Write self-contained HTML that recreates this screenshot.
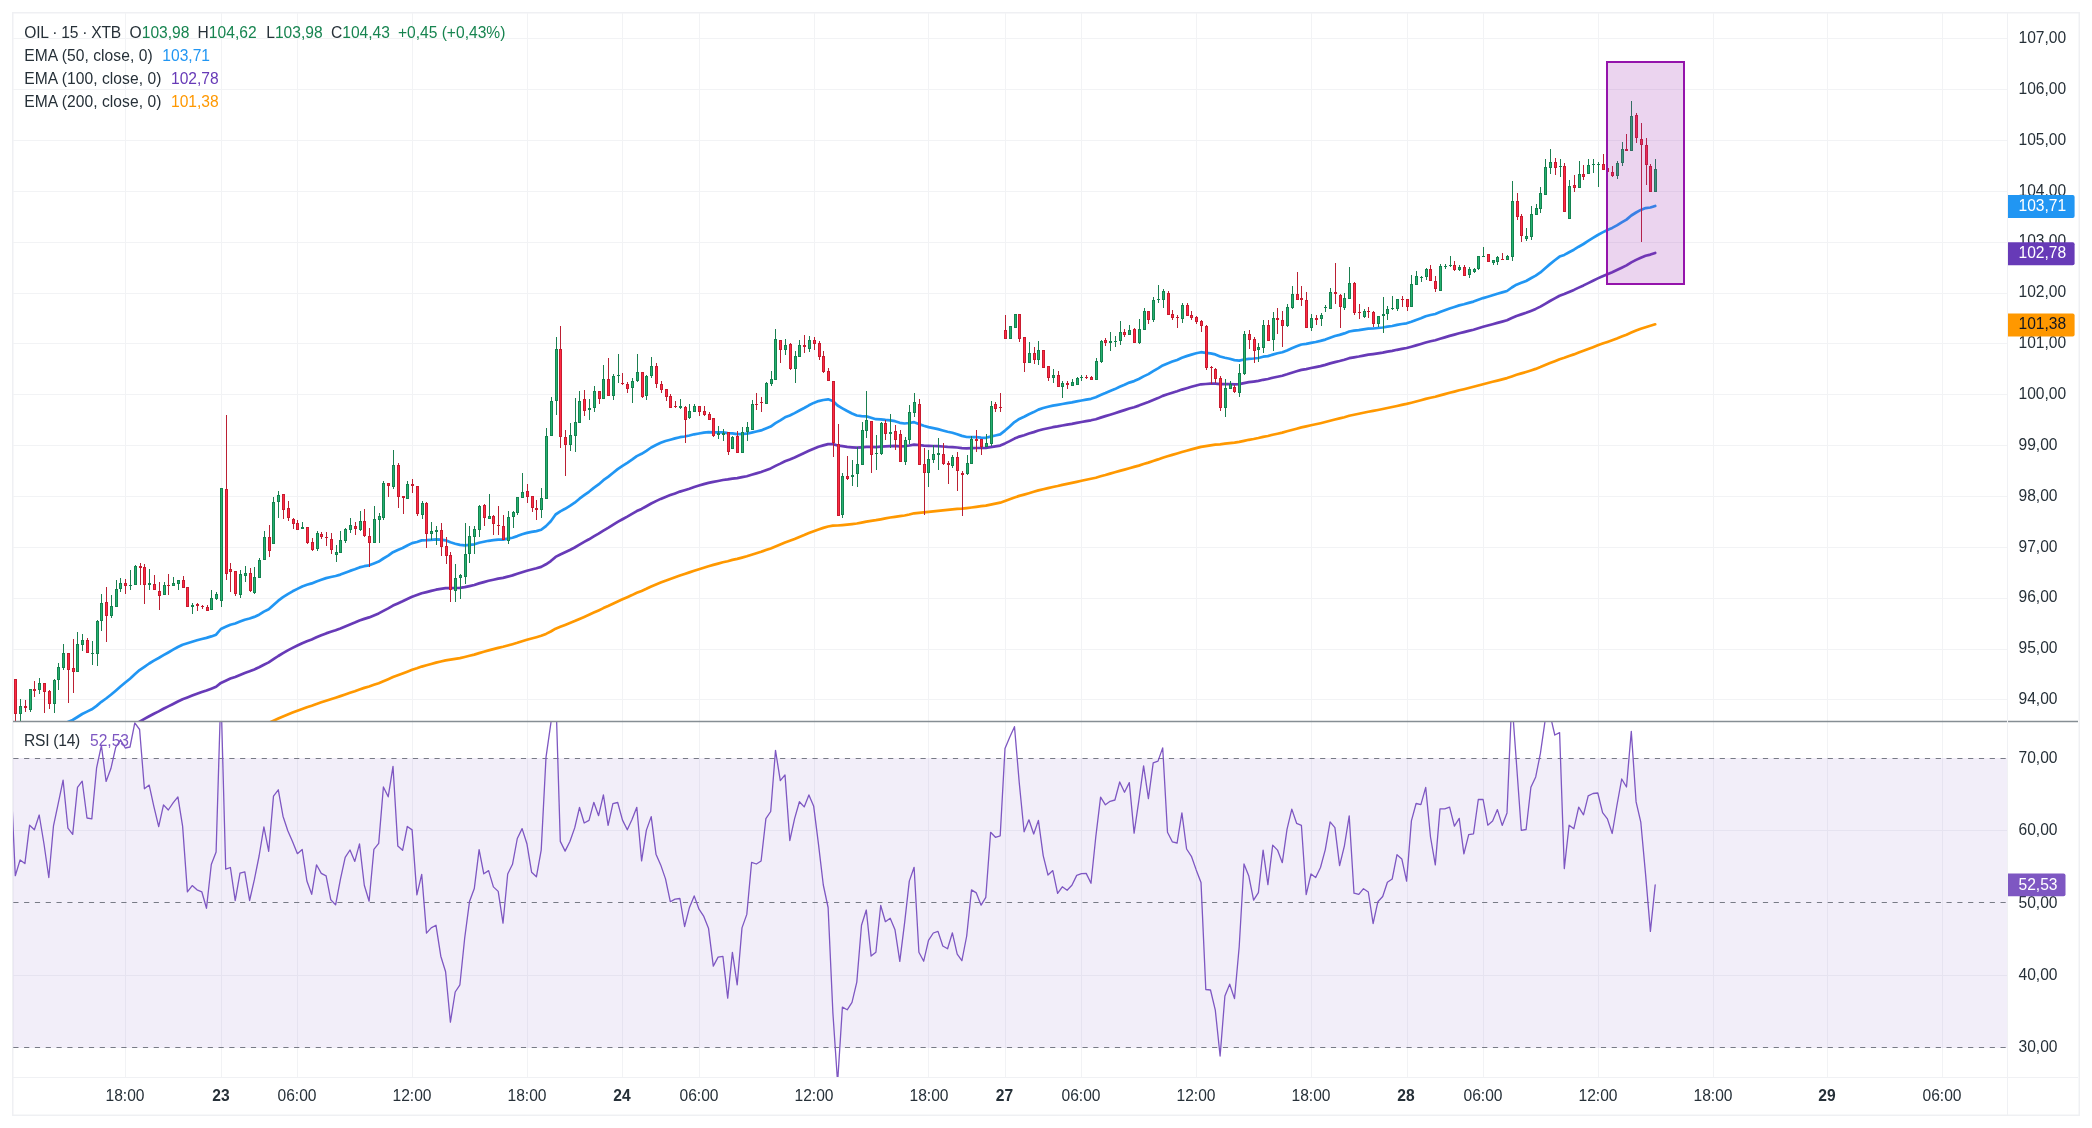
<!DOCTYPE html>
<html><head><meta charset="utf-8"><title>OIL 15 XTB</title>
<style>html,body{margin:0;padding:0;background:#fff;width:2092px;height:1128px;overflow:hidden}svg text{-webkit-font-smoothing:antialiased}.g{will-change:transform}</style>
</head><body><div class="g">
<svg width="2092" height="1128" viewBox="0 0 2092 1128" style="display:block">
<defs>
<clipPath id="cp"><rect x="13" y="13" width="1994" height="708"/></clipPath>
<clipPath id="cr"><rect x="13" y="722" width="1994" height="355"/></clipPath>
</defs>
<rect x="12.75" y="12.75" width="2066.5" height="1102.5" fill="none" stroke="#eff0f3" stroke-width="1.5"/>
<path d="M13 38.5H2007M13 89.5H2007M13 140.5H2007M13 191.5H2007M13 242.5H2007M13 293.5H2007M13 343.5H2007M13 394.5H2007M13 445.5H2007M13 496.5H2007M13 547.5H2007M13 598.5H2007M13 649.5H2007M13 699.5H2007M13 830.5H2007M13 975.5H2007M125.5 13V721M125.5 722V1077M221.5 13V721M221.5 722V1077M297.5 13V721M297.5 722V1077M412.5 13V721M412.5 722V1077M527.5 13V721M527.5 722V1077M622.5 13V721M622.5 722V1077M699.5 13V721M699.5 722V1077M814.5 13V721M814.5 722V1077M928.5 13V721M928.5 722V1077M1005.5 13V721M1005.5 722V1077M1081.5 13V721M1081.5 722V1077M1196.5 13V721M1196.5 722V1077M1311.5 13V721M1311.5 722V1077M1407.5 13V721M1407.5 722V1077M1483.5 13V721M1483.5 722V1077M1598.5 13V721M1598.5 722V1077M1713.5 13V721M1713.5 722V1077M1827.5 13V721M1827.5 722V1077M1942.5 13V721M1942.5 722V1077" stroke="#f2f3f5" stroke-width="1" fill="none"/>
<rect x="13" y="758" width="1994" height="290" fill="#7e57c2" fill-opacity="0.1"/>
<path d="M13.3 758.5H2007" stroke="#787b86" stroke-width="1" stroke-dasharray="5.2 5.6" fill="none"/>
<path d="M13.3 902.5H2007" stroke="#787b86" stroke-width="1" stroke-dasharray="5.2 5.6" fill="none"/>
<path d="M13.3 1047.5H2007" stroke="#787b86" stroke-width="1" stroke-dasharray="5.2 5.6" fill="none"/>
<polyline clip-path="url(#cp)" points="10.5,805.7 15.3,804.8 20.1,803.8 24.9,802.8 29.6,801.7 34.4,800.6 39.2,799.4 44.0,798.3 48.8,797.4 53.5,796.2 58.3,795.0 63.1,793.5 67.9,792.3 72.7,791.1 77.5,789.7 82.2,788.2 87.0,786.8 91.8,785.5 96.6,783.8 101.4,782.0 106.1,780.4 110.9,778.7 115.7,776.8 120.5,774.8 125.3,773.0 130.0,771.1 134.8,769.1 139.6,767.1 144.4,765.2 149.2,763.4 153.9,761.7 158.7,760.0 163.5,758.3 168.3,756.6 173.1,754.9 177.9,753.1 182.6,751.5 187.4,750.0 192.2,748.6 197.0,747.2 201.8,745.8 206.5,744.5 211.3,743.0 216.1,741.5 220.9,739.0 225.7,737.4 230.4,735.7 235.2,734.3 240.0,732.7 244.8,731.1 249.6,729.7 254.3,728.2 259.1,726.5 263.9,724.7 268.7,722.9 273.5,720.7 278.3,718.5 283.0,716.4 287.8,714.4 292.6,712.5 297.4,710.7 302.2,708.9 306.9,707.2 311.7,705.7 316.5,704.0 321.3,702.3 326.1,700.7 330.8,699.2 335.6,697.7 340.4,696.1 345.2,694.5 350.0,692.8 354.8,691.2 359.5,689.5 364.3,687.9 369.1,686.5 373.9,684.8 378.7,683.2 383.4,681.2 388.2,679.2 393.0,677.1 397.8,675.3 402.6,673.5 407.3,671.7 412.1,669.8 416.9,668.3 421.7,666.6 426.5,665.3 431.2,664.0 436.0,662.6 440.8,661.5 445.6,660.4 450.4,659.7 455.2,658.9 459.9,658.1 464.7,657.0 469.5,655.8 474.3,654.6 479.1,653.1 483.8,651.8 488.6,650.4 493.4,649.1 498.2,647.9 503.0,646.8 507.7,645.5 512.5,644.2 517.3,642.8 522.1,641.2 526.9,639.8 531.6,638.5 536.4,637.2 541.2,635.8 546.0,633.9 550.8,631.5 555.6,628.7 560.3,626.8 565.1,625.0 569.9,623.1 574.7,621.1 579.5,618.9 584.2,616.9 589.0,614.8 593.8,612.6 598.6,610.4 603.4,608.1 608.1,606.0 612.9,603.7 617.7,601.5 622.5,599.3 627.3,597.2 632.0,595.1 636.8,592.8 641.6,590.9 646.4,588.8 651.2,586.5 656.0,584.5 660.7,582.6 665.5,580.7 670.3,579.0 675.1,577.3 679.9,575.6 684.6,574.0 689.4,572.4 694.2,570.8 699.0,569.2 703.8,567.7 708.5,566.2 713.3,564.9 718.1,563.6 722.9,562.3 727.7,561.2 732.4,559.9 737.2,558.9 742.0,557.6 746.8,556.3 751.6,554.8 756.4,553.3 761.1,551.8 765.9,550.1 770.7,548.4 775.5,546.4 780.3,544.4 785.0,542.4 789.8,540.7 794.6,538.9 799.4,536.9 804.2,535.1 808.9,533.1 813.7,531.2 818.5,529.5 823.3,527.9 828.1,526.5 832.9,525.6 837.6,525.5 842.4,525.1 847.2,524.6 852.0,524.1 856.8,523.5 861.5,522.6 866.3,521.6 871.1,520.9 875.9,520.2 880.7,519.3 885.4,518.4 890.2,517.5 895.0,516.8 899.8,516.2 904.6,515.5 909.3,514.5 914.1,513.3 918.9,512.8 923.7,512.4 928.5,511.9 933.3,511.3 938.0,510.8 942.8,510.3 947.6,509.8 952.4,509.3 957.2,508.9 961.9,508.6 966.7,508.1 971.5,507.5 976.3,506.8 981.1,506.2 985.8,505.6 990.6,504.6 995.4,503.6 1000.2,502.7 1005.0,501.0 1009.7,499.3 1014.5,497.5 1019.3,495.9 1024.1,494.6 1028.9,493.2 1033.7,491.8 1038.4,490.4 1043.2,489.2 1048.0,488.1 1052.8,487.0 1057.6,486.0 1062.3,484.9 1067.1,483.9 1071.9,482.9 1076.7,481.9 1081.5,480.8 1086.2,479.8 1091.0,478.8 1095.8,477.7 1100.6,476.3 1105.4,475.0 1110.1,473.6 1114.9,472.3 1119.7,470.9 1124.5,469.6 1129.3,468.2 1134.1,466.9 1138.8,465.6 1143.6,464.0 1148.4,462.6 1153.2,461.0 1158.0,459.4 1162.7,457.7 1167.5,456.3 1172.3,454.9 1177.1,453.5 1181.9,452.0 1186.6,450.7 1191.4,449.4 1196.2,448.1 1201.0,446.9 1205.8,446.1 1210.5,445.3 1215.3,444.7 1220.1,444.3 1224.9,443.7 1229.7,443.1 1234.5,442.6 1239.2,441.9 1244.0,440.9 1248.8,439.8 1253.6,439.0 1258.4,438.0 1263.1,436.9 1267.9,436.0 1272.7,434.8 1277.5,433.7 1282.3,432.6 1287.0,431.3 1291.8,430.0 1296.6,428.7 1301.4,427.4 1306.2,426.4 1311.0,425.3 1315.7,424.3 1320.5,423.2 1325.3,422.0 1330.1,420.7 1334.9,419.5 1339.6,418.4 1344.4,417.2 1349.2,415.8 1354.0,414.8 1358.8,413.8 1363.5,412.8 1368.3,411.8 1373.1,410.9 1377.9,410.0 1382.7,409.0 1387.4,408.0 1392.2,407.0 1397.0,406.0 1401.8,404.9 1406.6,403.9 1411.4,402.7 1416.1,401.5 1420.9,400.2 1425.7,398.9 1430.5,397.8 1435.3,396.7 1440.0,395.4 1444.8,394.1 1449.6,392.8 1454.4,391.6 1459.2,390.3 1463.9,389.2 1468.7,388.0 1473.5,386.8 1478.3,385.5 1483.1,384.2 1487.8,383.0 1492.6,381.8 1497.4,380.6 1502.2,379.4 1507.0,378.1 1511.8,376.4 1516.5,374.8 1521.3,373.4 1526.1,372.0 1530.9,370.5 1535.7,368.9 1540.4,367.1 1545.2,365.1 1550.0,363.1 1554.8,361.2 1559.6,359.2 1564.3,357.8 1569.1,356.0 1573.9,354.4 1578.7,352.6 1583.5,350.8 1588.2,349.0 1593.0,347.2 1597.8,345.3 1602.6,343.6 1607.4,341.9 1612.2,340.2 1616.9,338.5 1621.7,336.6 1626.5,334.7 1631.3,332.6 1636.1,330.6 1640.8,328.8 1645.6,327.2 1650.4,325.8 1655.2,324.3" fill="none" stroke="#ff9800" stroke-width="2.7" stroke-linejoin="round" stroke-linecap="round"/>
<polyline clip-path="url(#cp)" points="10.5,780.8 15.3,779.4 20.1,778.0 24.9,776.6 29.6,774.8 34.4,773.2 39.2,771.4 44.0,769.8 48.8,768.5 53.5,766.8 58.3,764.8 63.1,762.6 67.9,760.8 72.7,759.0 77.5,756.7 82.2,754.4 87.0,752.4 91.8,750.4 96.6,747.9 101.4,745.0 106.1,742.4 110.9,739.7 115.7,736.8 120.5,733.7 125.3,730.8 130.0,727.9 134.8,724.7 139.6,721.6 144.4,718.9 149.2,716.2 153.9,713.7 158.7,711.4 163.5,708.8 168.3,706.4 173.1,704.0 177.9,701.5 182.6,699.3 187.4,697.5 192.2,695.6 197.0,693.8 201.8,692.1 206.5,690.5 211.3,688.7 216.1,686.8 220.9,682.9 225.7,680.7 230.4,678.6 235.2,676.9 240.0,674.9 244.8,672.9 249.6,671.2 254.3,669.4 259.1,667.2 263.9,664.7 268.7,662.4 273.5,659.2 278.3,656.0 283.0,653.1 287.8,650.4 292.6,647.9 297.4,645.5 302.2,643.2 306.9,641.2 311.7,639.4 316.5,637.3 321.3,635.3 326.1,633.4 330.8,631.8 335.6,630.2 340.4,628.4 345.2,626.4 350.0,624.4 354.8,622.5 359.5,620.5 364.3,618.9 369.1,617.4 373.9,615.4 378.7,613.4 383.4,610.9 388.2,608.4 393.0,605.6 397.8,603.4 402.6,601.3 407.3,599.0 412.1,596.8 416.9,595.1 421.7,593.3 426.5,592.1 431.2,590.9 436.0,589.7 440.8,588.9 445.6,588.2 450.4,588.2 455.2,588.0 459.9,587.8 464.7,587.1 469.5,586.1 474.3,585.0 479.1,583.4 483.8,582.1 488.6,580.8 493.4,579.7 498.2,578.6 503.0,577.9 507.7,576.6 512.5,575.4 517.3,573.8 522.1,572.2 526.9,570.7 531.6,569.5 536.4,568.3 541.2,566.9 546.0,564.3 550.8,561.1 555.6,556.9 560.3,554.5 565.1,552.3 569.9,550.0 574.7,547.5 579.5,544.6 584.2,541.9 589.0,539.3 593.8,536.4 598.6,533.6 603.4,530.6 608.1,527.9 612.9,524.9 617.7,521.9 622.5,519.2 627.3,516.6 632.0,513.9 636.8,511.1 641.6,508.9 646.4,506.2 651.2,503.5 656.0,501.1 660.7,498.9 665.5,496.9 670.3,495.1 675.1,493.4 679.9,491.6 684.6,490.2 689.4,488.7 694.2,487.0 699.0,485.5 703.8,484.1 708.5,482.9 713.3,481.9 718.1,481.0 722.9,480.0 727.7,479.4 732.4,478.6 737.2,478.1 742.0,477.2 746.8,476.2 751.6,474.8 756.4,473.4 761.1,472.0 765.9,470.2 770.7,468.4 775.5,465.9 780.3,463.6 785.0,461.2 789.8,459.4 794.6,457.4 799.4,455.2 804.2,453.0 808.9,450.8 813.7,448.7 818.5,446.8 823.3,445.4 828.1,444.1 832.9,444.1 837.6,445.5 842.4,446.1 847.2,446.8 852.0,447.3 856.8,447.7 861.5,447.3 866.3,446.8 871.1,446.9 875.9,447.1 880.7,446.6 885.4,446.3 890.2,446.1 895.0,445.9 899.8,446.3 904.6,446.1 909.3,445.5 914.1,444.6 918.9,445.0 923.7,445.6 928.5,445.8 933.3,446.0 938.0,446.1 942.8,446.5 947.6,446.9 952.4,447.1 957.2,447.5 961.9,448.1 966.7,448.4 971.5,448.2 976.3,448.0 981.1,448.0 985.8,447.9 990.6,447.1 995.4,446.3 1000.2,445.6 1005.0,443.4 1009.7,441.1 1014.5,438.6 1019.3,436.6 1024.1,435.2 1028.9,433.5 1033.7,432.1 1038.4,430.5 1043.2,429.2 1048.0,428.2 1052.8,427.2 1057.6,426.4 1062.3,425.5 1067.1,424.7 1071.9,423.9 1076.7,422.9 1081.5,422.0 1086.2,421.1 1091.0,420.3 1095.8,419.2 1100.6,417.6 1105.4,416.1 1110.1,414.7 1114.9,413.2 1119.7,411.6 1124.5,410.1 1129.3,408.5 1134.1,407.2 1138.8,405.6 1143.6,403.8 1148.4,402.1 1153.2,400.1 1158.0,398.1 1162.7,395.9 1167.5,394.3 1172.3,392.8 1177.1,391.3 1181.9,389.6 1186.6,388.2 1191.4,386.8 1196.2,385.5 1201.0,384.3 1205.8,384.0 1210.5,383.7 1215.3,383.6 1220.1,384.1 1224.9,384.1 1229.7,384.1 1234.5,384.3 1239.2,384.1 1244.0,383.1 1248.8,382.2 1253.6,381.6 1258.4,380.9 1263.1,379.8 1267.9,379.0 1272.7,377.8 1277.5,376.7 1282.3,375.7 1287.0,374.3 1291.8,372.7 1296.6,371.3 1301.4,369.9 1306.2,369.1 1311.0,368.0 1315.7,367.1 1320.5,366.1 1325.3,364.9 1330.1,363.4 1334.9,362.1 1339.6,361.0 1344.4,359.7 1349.2,358.2 1354.0,357.3 1358.8,356.5 1363.5,355.6 1368.3,354.7 1373.1,354.1 1377.9,353.4 1382.7,352.6 1387.4,351.7 1392.2,350.9 1397.0,349.8 1401.8,348.9 1406.6,348.0 1411.4,346.7 1416.1,345.4 1420.9,344.0 1425.7,342.5 1430.5,341.3 1435.3,340.3 1440.0,338.8 1444.8,337.4 1449.6,335.9 1454.4,334.6 1459.2,333.3 1463.9,332.1 1468.7,330.9 1473.5,329.7 1478.3,328.2 1483.1,326.8 1487.8,325.5 1492.6,324.2 1497.4,322.9 1502.2,321.6 1507.0,320.3 1511.8,318.0 1516.5,316.0 1521.3,314.4 1526.1,312.8 1530.9,310.9 1535.7,308.9 1540.4,306.6 1545.2,303.8 1550.0,301.0 1554.8,298.4 1559.6,295.8 1564.3,294.1 1569.1,292.0 1573.9,289.9 1578.7,287.6 1583.5,285.4 1588.2,283.1 1593.0,280.7 1597.8,278.4 1602.6,276.2 1607.4,274.2 1612.2,272.2 1616.9,270.0 1621.7,267.7 1626.5,265.4 1631.3,262.4 1636.1,259.9 1640.8,257.7 1645.6,255.8 1650.4,254.6 1655.2,252.9" fill="none" stroke="#673ab7" stroke-width="2.7" stroke-linejoin="round" stroke-linecap="round"/>
<polyline clip-path="url(#cp)" points="10.5,744.1 15.3,742.9 20.1,741.5 24.9,740.2 29.6,738.2 34.4,736.3 39.2,734.2 44.0,732.6 48.8,731.5 53.5,729.4 58.3,727.0 63.1,724.1 67.9,722.0 72.7,720.0 77.5,717.0 82.2,714.0 87.0,711.6 91.8,709.3 96.6,705.9 101.4,701.8 106.1,698.5 110.9,694.8 115.7,690.7 120.5,686.5 125.3,682.5 130.0,678.7 134.8,674.3 139.6,670.1 144.4,666.8 149.2,663.5 153.9,660.6 158.7,658.0 163.5,655.2 168.3,652.5 173.1,649.7 177.9,647.0 182.6,644.7 187.4,643.2 192.2,641.7 197.0,640.3 201.8,639.0 206.5,637.9 211.3,636.4 216.1,634.7 220.9,629.0 225.7,626.8 230.4,624.7 235.2,623.5 240.0,621.6 244.8,619.7 249.6,618.5 254.3,616.9 259.1,614.7 263.9,611.6 268.7,609.3 273.5,605.0 278.3,600.7 283.0,597.2 287.8,594.1 292.6,591.3 297.4,588.9 302.2,586.5 306.9,584.8 311.7,583.4 316.5,581.4 321.3,579.7 326.1,578.1 330.8,577.0 335.6,576.0 340.4,574.6 345.2,572.8 350.0,570.9 354.8,569.3 359.5,567.4 364.3,566.2 369.1,565.3 373.9,563.5 378.7,561.6 383.4,558.5 388.2,555.7 393.0,552.2 397.8,550.0 402.6,548.0 407.3,545.5 412.1,543.1 416.9,542.0 421.7,540.4 426.5,540.2 431.2,539.8 436.0,539.4 440.8,539.7 445.6,540.3 450.4,542.3 455.2,543.7 459.9,544.9 464.7,545.3 469.5,544.9 474.3,544.3 479.1,542.8 483.8,541.8 488.6,540.8 493.4,540.2 498.2,539.6 503.0,539.6 507.7,538.7 512.5,537.7 517.3,536.1 522.1,534.3 526.9,532.9 531.6,531.9 536.4,531.1 541.2,529.8 546.0,526.1 550.8,521.2 555.6,514.5 560.3,511.4 565.1,508.8 569.9,505.9 574.7,502.7 579.5,498.7 584.2,495.2 589.0,491.8 593.8,487.9 598.6,484.4 603.4,480.2 608.1,476.9 612.9,473.0 617.7,469.1 622.5,465.8 627.3,462.8 632.0,459.6 636.8,456.1 641.6,453.8 646.4,450.8 651.2,447.5 656.0,445.0 660.7,442.8 665.5,441.0 670.3,439.7 675.1,438.4 679.9,437.2 684.6,436.5 689.4,435.5 694.2,434.3 699.0,433.5 703.8,432.7 708.5,432.2 713.3,432.4 718.1,432.4 722.9,432.4 727.7,433.2 732.4,433.3 737.2,434.1 742.0,434.0 746.8,433.7 751.6,432.6 756.4,431.5 761.1,430.4 765.9,428.5 770.7,426.6 775.5,423.2 780.3,420.3 785.0,417.3 789.8,415.5 794.6,413.1 799.4,410.5 804.2,408.0 808.9,405.3 813.7,402.9 818.5,401.1 823.3,400.0 828.1,399.3 832.9,401.0 837.6,405.5 842.4,408.3 847.2,411.0 852.0,413.5 856.8,415.5 861.5,416.1 866.3,416.3 871.1,417.8 875.9,419.2 880.7,419.3 885.4,419.9 890.2,420.4 895.0,421.2 899.8,422.8 904.6,423.5 909.3,423.0 914.1,422.2 918.9,423.9 923.7,425.8 928.5,427.1 933.3,428.1 938.0,429.1 942.8,430.5 947.6,431.8 952.4,432.8 957.2,434.3 961.9,435.9 966.7,437.0 971.5,437.1 976.3,437.2 981.1,437.6 985.8,437.8 990.6,436.6 995.4,435.5 1000.2,434.4 1005.0,430.6 1009.7,426.5 1014.5,422.1 1019.3,418.9 1024.1,416.7 1028.9,414.2 1033.7,412.1 1038.4,409.6 1043.2,408.0 1048.0,406.8 1052.8,405.6 1057.6,404.8 1062.3,404.0 1067.1,403.2 1071.9,402.4 1076.7,401.4 1081.5,400.5 1086.2,399.6 1091.0,398.8 1095.8,397.3 1100.6,395.1 1105.4,393.1 1110.1,391.0 1114.9,389.1 1119.7,386.8 1124.5,384.8 1129.3,382.6 1134.1,381.1 1138.8,379.0 1143.6,376.4 1148.4,374.1 1153.2,371.2 1158.0,368.4 1162.7,365.4 1167.5,363.4 1172.3,361.6 1177.1,359.9 1181.9,357.7 1186.6,356.1 1191.4,354.6 1196.2,353.3 1201.0,352.2 1205.8,352.8 1210.5,353.4 1215.3,354.4 1220.1,356.5 1224.9,357.8 1229.7,358.8 1234.5,360.1 1239.2,360.6 1244.0,359.5 1248.8,358.8 1253.6,358.5 1258.4,358.0 1263.1,356.7 1267.9,356.1 1272.7,354.6 1277.5,353.3 1282.3,352.2 1287.0,350.4 1291.8,348.2 1296.6,346.3 1301.4,344.5 1306.2,343.9 1311.0,342.9 1315.7,342.0 1320.5,340.9 1325.3,339.6 1330.1,337.7 1334.9,336.0 1339.6,334.9 1344.4,333.4 1349.2,331.5 1354.0,330.7 1358.8,330.1 1363.5,329.3 1368.3,328.6 1373.1,328.5 1377.9,328.0 1382.7,327.5 1387.4,326.7 1392.2,326.0 1397.0,324.9 1401.8,324.0 1406.6,323.3 1411.4,321.8 1416.1,320.0 1420.9,318.3 1425.7,316.3 1430.5,315.0 1435.3,314.0 1440.0,312.1 1444.8,310.3 1449.6,308.5 1454.4,307.0 1459.2,305.4 1463.9,304.3 1468.7,302.9 1473.5,301.6 1478.3,299.8 1483.1,298.1 1487.8,296.7 1492.6,295.2 1497.4,293.7 1502.2,292.4 1507.0,291.0 1511.8,287.5 1516.5,284.7 1521.3,282.8 1526.1,281.0 1530.9,278.3 1535.7,275.6 1540.4,272.4 1545.2,268.2 1550.0,264.1 1554.8,260.3 1559.6,256.6 1564.3,254.9 1569.1,252.2 1573.9,249.7 1578.7,246.7 1583.5,244.0 1588.2,240.9 1593.0,237.9 1597.8,235.0 1602.6,232.4 1607.4,230.0 1612.2,227.9 1616.9,225.4 1621.7,222.4 1626.5,219.6 1631.3,215.5 1636.1,212.5 1640.8,209.9 1645.6,208.1 1650.4,207.5 1655.2,206.0" fill="none" stroke="#2196f3" stroke-width="2.7" stroke-linejoin="round" stroke-linecap="round"/>
<g clip-path="url(#cp)" shape-rendering="crispEdges"><rect x="15" y="679" width="1" height="43" fill="#bb2033"/><rect x="14" y="679" width="3" height="35" fill="#c91b2f"/><rect x="15" y="680" width="1" height="33" fill="#fe2b44"/><rect x="20" y="699" width="1" height="23" fill="#1b7f50"/><rect x="19" y="706" width="3" height="8" fill="#14834f"/><rect x="20" y="707" width="1" height="6" fill="#24b070"/><rect x="25" y="700" width="1" height="12" fill="#bb2033"/><rect x="24" y="706" width="3" height="2" fill="#c91b2f"/><rect x="30" y="689" width="1" height="23" fill="#1b7f50"/><rect x="29" y="689" width="3" height="21" fill="#14834f"/><rect x="30" y="690" width="1" height="19" fill="#24b070"/><rect x="34" y="681" width="1" height="16" fill="#bb2033"/><rect x="33" y="689" width="3" height="2" fill="#c91b2f"/><rect x="39" y="678" width="1" height="16" fill="#1b7f50"/><rect x="38" y="683" width="3" height="7" fill="#14834f"/><rect x="39" y="684" width="1" height="5" fill="#24b070"/><rect x="44" y="683" width="1" height="30" fill="#bb2033"/><rect x="43" y="683" width="3" height="9" fill="#c91b2f"/><rect x="44" y="684" width="1" height="7" fill="#fe2b44"/><rect x="49" y="690" width="1" height="19" fill="#bb2033"/><rect x="48" y="691" width="3" height="13" fill="#c91b2f"/><rect x="49" y="692" width="1" height="11" fill="#fe2b44"/><rect x="54" y="679" width="1" height="34" fill="#1b7f50"/><rect x="53" y="680" width="3" height="24" fill="#14834f"/><rect x="54" y="681" width="1" height="22" fill="#24b070"/><rect x="58" y="663" width="1" height="27" fill="#1b7f50"/><rect x="57" y="667" width="3" height="13" fill="#14834f"/><rect x="58" y="668" width="1" height="11" fill="#24b070"/><rect x="63" y="644" width="1" height="26" fill="#1b7f50"/><rect x="62" y="653" width="3" height="15" fill="#14834f"/><rect x="63" y="654" width="1" height="13" fill="#24b070"/><rect x="68" y="653" width="1" height="50" fill="#bb2033"/><rect x="67" y="653" width="3" height="17" fill="#c91b2f"/><rect x="68" y="654" width="1" height="15" fill="#fe2b44"/><rect x="73" y="639" width="1" height="54" fill="#bb2033"/><rect x="72" y="668" width="3" height="4" fill="#c91b2f"/><rect x="73" y="669" width="1" height="2" fill="#fe2b44"/><rect x="77" y="632" width="1" height="40" fill="#1b7f50"/><rect x="76" y="644" width="3" height="28" fill="#14834f"/><rect x="77" y="645" width="1" height="26" fill="#24b070"/><rect x="82" y="634" width="1" height="17" fill="#1b7f50"/><rect x="81" y="640" width="3" height="5" fill="#14834f"/><rect x="82" y="641" width="1" height="3" fill="#24b070"/><rect x="87" y="638" width="1" height="15" fill="#bb2033"/><rect x="86" y="640" width="3" height="13" fill="#c91b2f"/><rect x="87" y="641" width="1" height="11" fill="#fe2b44"/><rect x="92" y="641" width="1" height="24" fill="#1b7f50"/><rect x="91" y="653" width="3" height="1" fill="#14834f"/><rect x="97" y="620" width="1" height="46" fill="#1b7f50"/><rect x="96" y="621" width="3" height="33" fill="#14834f"/><rect x="97" y="622" width="1" height="31" fill="#24b070"/><rect x="101" y="594" width="1" height="37" fill="#1b7f50"/><rect x="100" y="603" width="3" height="18" fill="#14834f"/><rect x="101" y="604" width="1" height="16" fill="#24b070"/><rect x="106" y="587" width="1" height="55" fill="#bb2033"/><rect x="105" y="602" width="3" height="14" fill="#c91b2f"/><rect x="106" y="603" width="1" height="12" fill="#fe2b44"/><rect x="111" y="595" width="1" height="23" fill="#1b7f50"/><rect x="110" y="606" width="3" height="10" fill="#14834f"/><rect x="111" y="607" width="1" height="8" fill="#24b070"/><rect x="116" y="580" width="1" height="27" fill="#1b7f50"/><rect x="115" y="589" width="3" height="18" fill="#14834f"/><rect x="116" y="590" width="1" height="16" fill="#24b070"/><rect x="120" y="578" width="1" height="14" fill="#1b7f50"/><rect x="119" y="583" width="3" height="6" fill="#14834f"/><rect x="120" y="584" width="1" height="4" fill="#24b070"/><rect x="125" y="579" width="1" height="15" fill="#bb2033"/><rect x="124" y="583" width="3" height="3" fill="#c91b2f"/><rect x="125" y="584" width="1" height="1" fill="#fe2b44"/><rect x="130" y="570" width="1" height="20" fill="#1b7f50"/><rect x="129" y="585" width="3" height="1" fill="#14834f"/><rect x="135" y="565" width="1" height="20" fill="#1b7f50"/><rect x="134" y="566" width="3" height="19" fill="#14834f"/><rect x="135" y="567" width="1" height="17" fill="#24b070"/><rect x="140" y="563" width="1" height="22" fill="#bb2033"/><rect x="139" y="566" width="3" height="2" fill="#c91b2f"/><rect x="144" y="564" width="1" height="40" fill="#bb2033"/><rect x="143" y="567" width="3" height="18" fill="#c91b2f"/><rect x="144" y="568" width="1" height="16" fill="#fe2b44"/><rect x="149" y="569" width="1" height="21" fill="#1b7f50"/><rect x="148" y="583" width="3" height="2" fill="#14834f"/><rect x="154" y="575" width="1" height="15" fill="#bb2033"/><rect x="153" y="584" width="3" height="6" fill="#c91b2f"/><rect x="154" y="585" width="1" height="4" fill="#fe2b44"/><rect x="159" y="582" width="1" height="28" fill="#bb2033"/><rect x="158" y="591" width="3" height="5" fill="#c91b2f"/><rect x="159" y="592" width="1" height="3" fill="#fe2b44"/><rect x="164" y="582" width="1" height="13" fill="#1b7f50"/><rect x="163" y="585" width="3" height="10" fill="#14834f"/><rect x="164" y="586" width="1" height="8" fill="#24b070"/><rect x="168" y="574" width="1" height="21" fill="#bb2033"/><rect x="167" y="585" width="3" height="1" fill="#c91b2f"/><rect x="173" y="577" width="1" height="9" fill="#1b7f50"/><rect x="172" y="583" width="3" height="3" fill="#14834f"/><rect x="173" y="584" width="1" height="1" fill="#24b070"/><rect x="178" y="580" width="1" height="10" fill="#1b7f50"/><rect x="177" y="580" width="3" height="4" fill="#14834f"/><rect x="178" y="581" width="1" height="2" fill="#24b070"/><rect x="183" y="576" width="1" height="12" fill="#bb2033"/><rect x="182" y="580" width="3" height="8" fill="#c91b2f"/><rect x="183" y="581" width="1" height="6" fill="#fe2b44"/><rect x="187" y="587" width="1" height="20" fill="#bb2033"/><rect x="186" y="587" width="3" height="20" fill="#c91b2f"/><rect x="187" y="588" width="1" height="18" fill="#fe2b44"/><rect x="192" y="603" width="1" height="11" fill="#1b7f50"/><rect x="191" y="605" width="3" height="2" fill="#14834f"/><rect x="197" y="603" width="1" height="8" fill="#bb2033"/><rect x="196" y="604" width="3" height="2" fill="#c91b2f"/><rect x="202" y="605" width="1" height="4" fill="#bb2033"/><rect x="201" y="606" width="3" height="1" fill="#c91b2f"/><rect x="207" y="605" width="1" height="6" fill="#bb2033"/><rect x="206" y="607" width="3" height="4" fill="#c91b2f"/><rect x="207" y="608" width="1" height="2" fill="#fe2b44"/><rect x="211" y="590" width="1" height="20" fill="#1b7f50"/><rect x="210" y="598" width="3" height="12" fill="#14834f"/><rect x="211" y="599" width="1" height="10" fill="#24b070"/><rect x="216" y="592" width="1" height="8" fill="#1b7f50"/><rect x="215" y="594" width="3" height="5" fill="#14834f"/><rect x="216" y="595" width="1" height="3" fill="#24b070"/><rect x="221" y="488" width="1" height="119" fill="#1b7f50"/><rect x="220" y="488" width="3" height="113" fill="#14834f"/><rect x="221" y="489" width="1" height="111" fill="#24b070"/><rect x="226" y="415" width="1" height="165" fill="#bb2033"/><rect x="225" y="489" width="3" height="85" fill="#c91b2f"/><rect x="226" y="490" width="1" height="83" fill="#fe2b44"/><rect x="230" y="563" width="1" height="29" fill="#bb2033"/><rect x="229" y="569" width="3" height="3" fill="#c91b2f"/><rect x="230" y="570" width="1" height="1" fill="#fe2b44"/><rect x="235" y="571" width="1" height="25" fill="#bb2033"/><rect x="234" y="571" width="3" height="23" fill="#c91b2f"/><rect x="235" y="572" width="1" height="21" fill="#fe2b44"/><rect x="240" y="570" width="1" height="28" fill="#1b7f50"/><rect x="239" y="574" width="3" height="21" fill="#14834f"/><rect x="240" y="575" width="1" height="19" fill="#24b070"/><rect x="245" y="566" width="1" height="16" fill="#1b7f50"/><rect x="244" y="573" width="3" height="3" fill="#14834f"/><rect x="245" y="574" width="1" height="1" fill="#24b070"/><rect x="250" y="568" width="1" height="24" fill="#bb2033"/><rect x="249" y="573" width="3" height="18" fill="#c91b2f"/><rect x="250" y="574" width="1" height="16" fill="#fe2b44"/><rect x="254" y="567" width="1" height="27" fill="#1b7f50"/><rect x="253" y="577" width="3" height="16" fill="#14834f"/><rect x="254" y="578" width="1" height="14" fill="#24b070"/><rect x="259" y="558" width="1" height="20" fill="#1b7f50"/><rect x="258" y="560" width="3" height="18" fill="#14834f"/><rect x="259" y="561" width="1" height="16" fill="#24b070"/><rect x="264" y="531" width="1" height="29" fill="#1b7f50"/><rect x="263" y="537" width="3" height="23" fill="#14834f"/><rect x="264" y="538" width="1" height="21" fill="#24b070"/><rect x="269" y="525" width="1" height="32" fill="#bb2033"/><rect x="268" y="537" width="3" height="14" fill="#c91b2f"/><rect x="269" y="538" width="1" height="12" fill="#fe2b44"/><rect x="273" y="497" width="1" height="47" fill="#1b7f50"/><rect x="272" y="502" width="3" height="42" fill="#14834f"/><rect x="273" y="503" width="1" height="40" fill="#24b070"/><rect x="278" y="491" width="1" height="27" fill="#1b7f50"/><rect x="277" y="495" width="3" height="7" fill="#14834f"/><rect x="278" y="496" width="1" height="5" fill="#24b070"/><rect x="283" y="494" width="1" height="25" fill="#bb2033"/><rect x="282" y="494" width="3" height="16" fill="#c91b2f"/><rect x="283" y="495" width="1" height="14" fill="#fe2b44"/><rect x="288" y="501" width="1" height="20" fill="#bb2033"/><rect x="287" y="508" width="3" height="10" fill="#c91b2f"/><rect x="288" y="509" width="1" height="8" fill="#fe2b44"/><rect x="293" y="518" width="1" height="11" fill="#bb2033"/><rect x="292" y="519" width="3" height="5" fill="#c91b2f"/><rect x="293" y="520" width="1" height="3" fill="#fe2b44"/><rect x="297" y="520" width="1" height="10" fill="#bb2033"/><rect x="296" y="523" width="3" height="7" fill="#c91b2f"/><rect x="297" y="524" width="1" height="5" fill="#fe2b44"/><rect x="302" y="522" width="1" height="7" fill="#1b7f50"/><rect x="301" y="527" width="3" height="2" fill="#14834f"/><rect x="307" y="527" width="1" height="17" fill="#bb2033"/><rect x="306" y="527" width="3" height="16" fill="#c91b2f"/><rect x="307" y="528" width="1" height="14" fill="#fe2b44"/><rect x="312" y="538" width="1" height="13" fill="#bb2033"/><rect x="311" y="542" width="3" height="8" fill="#c91b2f"/><rect x="312" y="543" width="1" height="6" fill="#fe2b44"/><rect x="317" y="531" width="1" height="20" fill="#1b7f50"/><rect x="316" y="533" width="3" height="16" fill="#14834f"/><rect x="317" y="534" width="1" height="14" fill="#24b070"/><rect x="321" y="532" width="1" height="7" fill="#bb2033"/><rect x="320" y="534" width="3" height="3" fill="#c91b2f"/><rect x="321" y="535" width="1" height="1" fill="#fe2b44"/><rect x="326" y="532" width="1" height="14" fill="#bb2033"/><rect x="325" y="537" width="3" height="1" fill="#c91b2f"/><rect x="331" y="533" width="1" height="21" fill="#bb2033"/><rect x="330" y="539" width="3" height="11" fill="#c91b2f"/><rect x="331" y="540" width="1" height="9" fill="#fe2b44"/><rect x="336" y="545" width="1" height="17" fill="#1b7f50"/><rect x="335" y="552" width="3" height="3" fill="#14834f"/><rect x="336" y="553" width="1" height="1" fill="#24b070"/><rect x="340" y="531" width="1" height="22" fill="#1b7f50"/><rect x="339" y="540" width="3" height="13" fill="#14834f"/><rect x="340" y="541" width="1" height="11" fill="#24b070"/><rect x="345" y="528" width="1" height="15" fill="#1b7f50"/><rect x="344" y="529" width="3" height="12" fill="#14834f"/><rect x="345" y="530" width="1" height="10" fill="#24b070"/><rect x="350" y="518" width="1" height="15" fill="#1b7f50"/><rect x="349" y="525" width="3" height="5" fill="#14834f"/><rect x="350" y="526" width="1" height="3" fill="#24b070"/><rect x="355" y="522" width="1" height="13" fill="#bb2033"/><rect x="354" y="526" width="3" height="3" fill="#c91b2f"/><rect x="355" y="527" width="1" height="1" fill="#fe2b44"/><rect x="360" y="511" width="1" height="20" fill="#1b7f50"/><rect x="359" y="521" width="3" height="9" fill="#14834f"/><rect x="360" y="522" width="1" height="7" fill="#24b070"/><rect x="364" y="509" width="1" height="28" fill="#bb2033"/><rect x="363" y="521" width="3" height="15" fill="#c91b2f"/><rect x="364" y="522" width="1" height="13" fill="#fe2b44"/><rect x="369" y="528" width="1" height="39" fill="#bb2033"/><rect x="368" y="536" width="3" height="7" fill="#c91b2f"/><rect x="369" y="537" width="1" height="5" fill="#fe2b44"/><rect x="374" y="506" width="1" height="37" fill="#1b7f50"/><rect x="373" y="519" width="3" height="24" fill="#14834f"/><rect x="374" y="520" width="1" height="22" fill="#24b070"/><rect x="379" y="513" width="1" height="30" fill="#1b7f50"/><rect x="378" y="516" width="3" height="4" fill="#14834f"/><rect x="379" y="517" width="1" height="2" fill="#24b070"/><rect x="383" y="481" width="1" height="39" fill="#1b7f50"/><rect x="382" y="483" width="3" height="35" fill="#14834f"/><rect x="383" y="484" width="1" height="33" fill="#24b070"/><rect x="388" y="483" width="1" height="14" fill="#bb2033"/><rect x="387" y="483" width="3" height="3" fill="#c91b2f"/><rect x="388" y="484" width="1" height="1" fill="#fe2b44"/><rect x="393" y="450" width="1" height="39" fill="#1b7f50"/><rect x="392" y="465" width="3" height="22" fill="#14834f"/><rect x="393" y="466" width="1" height="20" fill="#24b070"/><rect x="398" y="463" width="1" height="45" fill="#bb2033"/><rect x="397" y="465" width="3" height="32" fill="#c91b2f"/><rect x="398" y="466" width="1" height="30" fill="#fe2b44"/><rect x="403" y="496" width="1" height="18" fill="#bb2033"/><rect x="402" y="496" width="3" height="2" fill="#c91b2f"/><rect x="407" y="481" width="1" height="18" fill="#1b7f50"/><rect x="406" y="484" width="3" height="15" fill="#14834f"/><rect x="407" y="485" width="1" height="13" fill="#24b070"/><rect x="412" y="479" width="1" height="14" fill="#bb2033"/><rect x="411" y="484" width="3" height="2" fill="#c91b2f"/><rect x="417" y="486" width="1" height="30" fill="#bb2033"/><rect x="416" y="486" width="3" height="28" fill="#c91b2f"/><rect x="417" y="487" width="1" height="26" fill="#fe2b44"/><rect x="422" y="501" width="1" height="18" fill="#1b7f50"/><rect x="421" y="503" width="3" height="12" fill="#14834f"/><rect x="422" y="504" width="1" height="10" fill="#24b070"/><rect x="426" y="502" width="1" height="46" fill="#bb2033"/><rect x="425" y="503" width="3" height="31" fill="#c91b2f"/><rect x="426" y="504" width="1" height="29" fill="#fe2b44"/><rect x="431" y="522" width="1" height="18" fill="#1b7f50"/><rect x="430" y="531" width="3" height="3" fill="#14834f"/><rect x="431" y="532" width="1" height="1" fill="#24b070"/><rect x="436" y="526" width="1" height="19" fill="#1b7f50"/><rect x="435" y="530" width="3" height="2" fill="#14834f"/><rect x="441" y="523" width="1" height="33" fill="#bb2033"/><rect x="440" y="530" width="3" height="17" fill="#c91b2f"/><rect x="441" y="531" width="1" height="15" fill="#fe2b44"/><rect x="446" y="537" width="1" height="27" fill="#bb2033"/><rect x="445" y="546" width="3" height="10" fill="#c91b2f"/><rect x="446" y="547" width="1" height="8" fill="#fe2b44"/><rect x="450" y="552" width="1" height="50" fill="#bb2033"/><rect x="449" y="555" width="3" height="35" fill="#c91b2f"/><rect x="450" y="556" width="1" height="33" fill="#fe2b44"/><rect x="455" y="564" width="1" height="38" fill="#1b7f50"/><rect x="454" y="578" width="3" height="13" fill="#14834f"/><rect x="455" y="579" width="1" height="11" fill="#24b070"/><rect x="460" y="574" width="1" height="25" fill="#1b7f50"/><rect x="459" y="575" width="3" height="3" fill="#14834f"/><rect x="460" y="576" width="1" height="1" fill="#24b070"/><rect x="465" y="523" width="1" height="61" fill="#1b7f50"/><rect x="464" y="554" width="3" height="23" fill="#14834f"/><rect x="465" y="555" width="1" height="21" fill="#24b070"/><rect x="469" y="526" width="1" height="37" fill="#1b7f50"/><rect x="468" y="536" width="3" height="18" fill="#14834f"/><rect x="469" y="537" width="1" height="16" fill="#24b070"/><rect x="474" y="526" width="1" height="28" fill="#1b7f50"/><rect x="473" y="529" width="3" height="8" fill="#14834f"/><rect x="474" y="530" width="1" height="6" fill="#24b070"/><rect x="479" y="505" width="1" height="32" fill="#1b7f50"/><rect x="478" y="506" width="3" height="24" fill="#14834f"/><rect x="479" y="507" width="1" height="22" fill="#24b070"/><rect x="484" y="504" width="1" height="22" fill="#bb2033"/><rect x="483" y="505" width="3" height="13" fill="#c91b2f"/><rect x="484" y="506" width="1" height="11" fill="#fe2b44"/><rect x="489" y="494" width="1" height="25" fill="#1b7f50"/><rect x="488" y="516" width="3" height="3" fill="#14834f"/><rect x="489" y="517" width="1" height="1" fill="#24b070"/><rect x="493" y="515" width="1" height="20" fill="#bb2033"/><rect x="492" y="516" width="3" height="8" fill="#c91b2f"/><rect x="493" y="517" width="1" height="6" fill="#fe2b44"/><rect x="498" y="506" width="1" height="29" fill="#bb2033"/><rect x="497" y="525" width="3" height="1" fill="#c91b2f"/><rect x="503" y="515" width="1" height="25" fill="#bb2033"/><rect x="502" y="526" width="3" height="14" fill="#c91b2f"/><rect x="503" y="527" width="1" height="12" fill="#fe2b44"/><rect x="508" y="511" width="1" height="33" fill="#1b7f50"/><rect x="507" y="517" width="3" height="24" fill="#14834f"/><rect x="508" y="518" width="1" height="22" fill="#24b070"/><rect x="513" y="511" width="1" height="17" fill="#1b7f50"/><rect x="512" y="512" width="3" height="5" fill="#14834f"/><rect x="513" y="513" width="1" height="3" fill="#24b070"/><rect x="517" y="497" width="1" height="18" fill="#1b7f50"/><rect x="516" y="497" width="3" height="16" fill="#14834f"/><rect x="517" y="498" width="1" height="14" fill="#24b070"/><rect x="522" y="473" width="1" height="25" fill="#1b7f50"/><rect x="521" y="492" width="3" height="6" fill="#14834f"/><rect x="522" y="493" width="1" height="4" fill="#24b070"/><rect x="527" y="484" width="1" height="19" fill="#bb2033"/><rect x="526" y="491" width="3" height="6" fill="#c91b2f"/><rect x="527" y="492" width="1" height="4" fill="#fe2b44"/><rect x="532" y="496" width="1" height="16" fill="#bb2033"/><rect x="531" y="496" width="3" height="12" fill="#c91b2f"/><rect x="532" y="497" width="1" height="10" fill="#fe2b44"/><rect x="536" y="500" width="1" height="20" fill="#bb2033"/><rect x="535" y="508" width="3" height="2" fill="#c91b2f"/><rect x="541" y="488" width="1" height="30" fill="#1b7f50"/><rect x="540" y="498" width="3" height="12" fill="#14834f"/><rect x="541" y="499" width="1" height="10" fill="#24b070"/><rect x="546" y="428" width="1" height="71" fill="#1b7f50"/><rect x="545" y="436" width="3" height="63" fill="#14834f"/><rect x="546" y="437" width="1" height="61" fill="#24b070"/><rect x="551" y="397" width="1" height="39" fill="#1b7f50"/><rect x="550" y="401" width="3" height="35" fill="#14834f"/><rect x="551" y="402" width="1" height="33" fill="#24b070"/><rect x="556" y="337" width="1" height="78" fill="#1b7f50"/><rect x="555" y="349" width="3" height="52" fill="#14834f"/><rect x="556" y="350" width="1" height="50" fill="#24b070"/><rect x="560" y="326" width="1" height="122" fill="#bb2033"/><rect x="559" y="349" width="3" height="88" fill="#c91b2f"/><rect x="560" y="350" width="1" height="86" fill="#fe2b44"/><rect x="565" y="430" width="1" height="46" fill="#bb2033"/><rect x="564" y="437" width="3" height="8" fill="#c91b2f"/><rect x="565" y="438" width="1" height="6" fill="#fe2b44"/><rect x="570" y="423" width="1" height="28" fill="#1b7f50"/><rect x="569" y="435" width="3" height="10" fill="#14834f"/><rect x="570" y="436" width="1" height="8" fill="#24b070"/><rect x="575" y="398" width="1" height="54" fill="#1b7f50"/><rect x="574" y="422" width="3" height="14" fill="#14834f"/><rect x="575" y="423" width="1" height="12" fill="#24b070"/><rect x="579" y="391" width="1" height="32" fill="#1b7f50"/><rect x="578" y="401" width="3" height="22" fill="#14834f"/><rect x="579" y="402" width="1" height="20" fill="#24b070"/><rect x="584" y="390" width="1" height="26" fill="#bb2033"/><rect x="583" y="399" width="3" height="12" fill="#c91b2f"/><rect x="584" y="400" width="1" height="10" fill="#fe2b44"/><rect x="589" y="399" width="1" height="21" fill="#1b7f50"/><rect x="588" y="408" width="3" height="2" fill="#14834f"/><rect x="594" y="386" width="1" height="26" fill="#1b7f50"/><rect x="593" y="391" width="3" height="17" fill="#14834f"/><rect x="594" y="392" width="1" height="15" fill="#24b070"/><rect x="599" y="391" width="1" height="13" fill="#bb2033"/><rect x="598" y="391" width="3" height="8" fill="#c91b2f"/><rect x="599" y="392" width="1" height="6" fill="#fe2b44"/><rect x="603" y="365" width="1" height="34" fill="#1b7f50"/><rect x="602" y="379" width="3" height="20" fill="#14834f"/><rect x="603" y="380" width="1" height="18" fill="#24b070"/><rect x="608" y="358" width="1" height="38" fill="#bb2033"/><rect x="607" y="379" width="3" height="17" fill="#c91b2f"/><rect x="608" y="380" width="1" height="15" fill="#fe2b44"/><rect x="613" y="374" width="1" height="26" fill="#1b7f50"/><rect x="612" y="376" width="3" height="20" fill="#14834f"/><rect x="613" y="377" width="1" height="18" fill="#24b070"/><rect x="618" y="354" width="1" height="29" fill="#1b7f50"/><rect x="617" y="375" width="3" height="1" fill="#14834f"/><rect x="622" y="373" width="1" height="12" fill="#bb2033"/><rect x="621" y="383" width="3" height="1" fill="#c91b2f"/><rect x="627" y="382" width="1" height="11" fill="#bb2033"/><rect x="626" y="384" width="3" height="5" fill="#c91b2f"/><rect x="627" y="385" width="1" height="3" fill="#fe2b44"/><rect x="632" y="378" width="1" height="25" fill="#1b7f50"/><rect x="631" y="381" width="3" height="7" fill="#14834f"/><rect x="632" y="382" width="1" height="5" fill="#24b070"/><rect x="637" y="354" width="1" height="28" fill="#1b7f50"/><rect x="636" y="372" width="3" height="9" fill="#14834f"/><rect x="637" y="373" width="1" height="7" fill="#24b070"/><rect x="642" y="372" width="1" height="26" fill="#bb2033"/><rect x="641" y="372" width="3" height="25" fill="#c91b2f"/><rect x="642" y="373" width="1" height="23" fill="#fe2b44"/><rect x="646" y="375" width="1" height="25" fill="#1b7f50"/><rect x="645" y="376" width="3" height="20" fill="#14834f"/><rect x="646" y="377" width="1" height="18" fill="#24b070"/><rect x="651" y="357" width="1" height="21" fill="#1b7f50"/><rect x="650" y="366" width="3" height="10" fill="#14834f"/><rect x="651" y="367" width="1" height="8" fill="#24b070"/><rect x="656" y="363" width="1" height="25" fill="#bb2033"/><rect x="655" y="366" width="3" height="18" fill="#c91b2f"/><rect x="656" y="367" width="1" height="16" fill="#fe2b44"/><rect x="661" y="381" width="1" height="12" fill="#bb2033"/><rect x="660" y="384" width="3" height="6" fill="#c91b2f"/><rect x="661" y="385" width="1" height="4" fill="#fe2b44"/><rect x="666" y="389" width="1" height="12" fill="#bb2033"/><rect x="665" y="389" width="3" height="8" fill="#c91b2f"/><rect x="666" y="390" width="1" height="6" fill="#fe2b44"/><rect x="670" y="394" width="1" height="14" fill="#bb2033"/><rect x="669" y="396" width="3" height="12" fill="#c91b2f"/><rect x="670" y="397" width="1" height="10" fill="#fe2b44"/><rect x="675" y="401" width="1" height="7" fill="#bb2033"/><rect x="674" y="406" width="3" height="1" fill="#c91b2f"/><rect x="680" y="399" width="1" height="10" fill="#1b7f50"/><rect x="679" y="406" width="3" height="2" fill="#14834f"/><rect x="685" y="406" width="1" height="37" fill="#bb2033"/><rect x="684" y="407" width="3" height="13" fill="#c91b2f"/><rect x="685" y="408" width="1" height="11" fill="#fe2b44"/><rect x="689" y="404" width="1" height="15" fill="#1b7f50"/><rect x="688" y="411" width="3" height="7" fill="#14834f"/><rect x="689" y="412" width="1" height="5" fill="#24b070"/><rect x="694" y="404" width="1" height="8" fill="#1b7f50"/><rect x="693" y="406" width="3" height="6" fill="#14834f"/><rect x="694" y="407" width="1" height="4" fill="#24b070"/><rect x="699" y="406" width="1" height="10" fill="#bb2033"/><rect x="698" y="406" width="3" height="6" fill="#c91b2f"/><rect x="699" y="407" width="1" height="4" fill="#fe2b44"/><rect x="704" y="406" width="1" height="10" fill="#bb2033"/><rect x="703" y="411" width="3" height="4" fill="#c91b2f"/><rect x="704" y="412" width="1" height="2" fill="#fe2b44"/><rect x="709" y="412" width="1" height="8" fill="#bb2033"/><rect x="708" y="414" width="3" height="6" fill="#c91b2f"/><rect x="709" y="415" width="1" height="4" fill="#fe2b44"/><rect x="713" y="418" width="1" height="19" fill="#bb2033"/><rect x="712" y="418" width="3" height="18" fill="#c91b2f"/><rect x="713" y="419" width="1" height="16" fill="#fe2b44"/><rect x="718" y="426" width="1" height="13" fill="#1b7f50"/><rect x="717" y="433" width="3" height="2" fill="#14834f"/><rect x="723" y="429" width="1" height="12" fill="#1b7f50"/><rect x="722" y="433" width="3" height="2" fill="#14834f"/><rect x="728" y="432" width="1" height="23" fill="#bb2033"/><rect x="727" y="432" width="3" height="20" fill="#c91b2f"/><rect x="728" y="433" width="1" height="18" fill="#fe2b44"/><rect x="732" y="436" width="1" height="13" fill="#1b7f50"/><rect x="731" y="437" width="3" height="12" fill="#14834f"/><rect x="732" y="438" width="1" height="10" fill="#24b070"/><rect x="737" y="431" width="1" height="22" fill="#bb2033"/><rect x="736" y="436" width="3" height="17" fill="#c91b2f"/><rect x="737" y="437" width="1" height="15" fill="#fe2b44"/><rect x="742" y="427" width="1" height="26" fill="#1b7f50"/><rect x="741" y="432" width="3" height="21" fill="#14834f"/><rect x="742" y="433" width="1" height="19" fill="#24b070"/><rect x="747" y="422" width="1" height="19" fill="#1b7f50"/><rect x="746" y="427" width="3" height="5" fill="#14834f"/><rect x="747" y="428" width="1" height="3" fill="#24b070"/><rect x="752" y="400" width="1" height="30" fill="#1b7f50"/><rect x="751" y="404" width="3" height="26" fill="#14834f"/><rect x="752" y="405" width="1" height="24" fill="#24b070"/><rect x="756" y="393" width="1" height="17" fill="#bb2033"/><rect x="755" y="404" width="3" height="1" fill="#c91b2f"/><rect x="761" y="397" width="1" height="15" fill="#bb2033"/><rect x="760" y="402" width="3" height="1" fill="#c91b2f"/><rect x="766" y="382" width="1" height="22" fill="#1b7f50"/><rect x="765" y="383" width="3" height="21" fill="#14834f"/><rect x="766" y="384" width="1" height="19" fill="#24b070"/><rect x="771" y="371" width="1" height="15" fill="#1b7f50"/><rect x="770" y="379" width="3" height="5" fill="#14834f"/><rect x="771" y="380" width="1" height="3" fill="#24b070"/><rect x="775" y="329" width="1" height="51" fill="#1b7f50"/><rect x="774" y="339" width="3" height="41" fill="#14834f"/><rect x="775" y="340" width="1" height="39" fill="#24b070"/><rect x="780" y="340" width="1" height="23" fill="#bb2033"/><rect x="779" y="340" width="3" height="10" fill="#c91b2f"/><rect x="780" y="341" width="1" height="8" fill="#fe2b44"/><rect x="785" y="339" width="1" height="16" fill="#1b7f50"/><rect x="784" y="345" width="3" height="5" fill="#14834f"/><rect x="785" y="346" width="1" height="3" fill="#24b070"/><rect x="790" y="343" width="1" height="27" fill="#bb2033"/><rect x="789" y="344" width="3" height="25" fill="#c91b2f"/><rect x="790" y="345" width="1" height="23" fill="#fe2b44"/><rect x="795" y="351" width="1" height="32" fill="#1b7f50"/><rect x="794" y="356" width="3" height="13" fill="#14834f"/><rect x="795" y="357" width="1" height="11" fill="#24b070"/><rect x="799" y="340" width="1" height="17" fill="#1b7f50"/><rect x="798" y="345" width="3" height="12" fill="#14834f"/><rect x="799" y="346" width="1" height="10" fill="#24b070"/><rect x="804" y="335" width="1" height="18" fill="#bb2033"/><rect x="803" y="345" width="3" height="2" fill="#c91b2f"/><rect x="809" y="336" width="1" height="16" fill="#1b7f50"/><rect x="808" y="340" width="3" height="9" fill="#14834f"/><rect x="809" y="341" width="1" height="7" fill="#24b070"/><rect x="814" y="337" width="1" height="13" fill="#bb2033"/><rect x="813" y="340" width="3" height="4" fill="#c91b2f"/><rect x="814" y="341" width="1" height="2" fill="#fe2b44"/><rect x="819" y="341" width="1" height="19" fill="#bb2033"/><rect x="818" y="343" width="3" height="14" fill="#c91b2f"/><rect x="819" y="344" width="1" height="12" fill="#fe2b44"/><rect x="823" y="351" width="1" height="22" fill="#bb2033"/><rect x="822" y="356" width="3" height="16" fill="#c91b2f"/><rect x="823" y="357" width="1" height="14" fill="#fe2b44"/><rect x="828" y="368" width="1" height="13" fill="#bb2033"/><rect x="827" y="371" width="3" height="10" fill="#c91b2f"/><rect x="828" y="372" width="1" height="8" fill="#fe2b44"/><rect x="833" y="381" width="1" height="76" fill="#bb2033"/><rect x="832" y="381" width="3" height="62" fill="#c91b2f"/><rect x="833" y="382" width="1" height="60" fill="#fe2b44"/><rect x="838" y="424" width="1" height="92" fill="#bb2033"/><rect x="837" y="444" width="3" height="72" fill="#c91b2f"/><rect x="838" y="445" width="1" height="70" fill="#fe2b44"/><rect x="842" y="473" width="1" height="45" fill="#1b7f50"/><rect x="841" y="476" width="3" height="39" fill="#14834f"/><rect x="842" y="477" width="1" height="37" fill="#24b070"/><rect x="847" y="456" width="1" height="24" fill="#bb2033"/><rect x="846" y="476" width="3" height="3" fill="#c91b2f"/><rect x="847" y="477" width="1" height="1" fill="#fe2b44"/><rect x="852" y="460" width="1" height="26" fill="#1b7f50"/><rect x="851" y="475" width="3" height="2" fill="#14834f"/><rect x="857" y="447" width="1" height="40" fill="#1b7f50"/><rect x="856" y="464" width="3" height="10" fill="#14834f"/><rect x="857" y="465" width="1" height="8" fill="#24b070"/><rect x="862" y="422" width="1" height="43" fill="#1b7f50"/><rect x="861" y="430" width="3" height="35" fill="#14834f"/><rect x="862" y="431" width="1" height="33" fill="#24b070"/><rect x="866" y="391" width="1" height="47" fill="#1b7f50"/><rect x="865" y="420" width="3" height="11" fill="#14834f"/><rect x="866" y="421" width="1" height="9" fill="#24b070"/><rect x="871" y="421" width="1" height="52" fill="#bb2033"/><rect x="870" y="421" width="3" height="34" fill="#c91b2f"/><rect x="871" y="422" width="1" height="32" fill="#fe2b44"/><rect x="876" y="435" width="1" height="35" fill="#1b7f50"/><rect x="875" y="453" width="3" height="1" fill="#14834f"/><rect x="881" y="422" width="1" height="33" fill="#1b7f50"/><rect x="880" y="423" width="3" height="31" fill="#14834f"/><rect x="881" y="424" width="1" height="29" fill="#24b070"/><rect x="885" y="420" width="1" height="20" fill="#bb2033"/><rect x="884" y="423" width="3" height="11" fill="#c91b2f"/><rect x="885" y="424" width="1" height="9" fill="#fe2b44"/><rect x="890" y="414" width="1" height="34" fill="#1b7f50"/><rect x="889" y="432" width="3" height="2" fill="#14834f"/><rect x="895" y="425" width="1" height="25" fill="#bb2033"/><rect x="894" y="431" width="3" height="9" fill="#c91b2f"/><rect x="895" y="432" width="1" height="7" fill="#fe2b44"/><rect x="900" y="430" width="1" height="32" fill="#bb2033"/><rect x="899" y="434" width="3" height="28" fill="#c91b2f"/><rect x="900" y="435" width="1" height="26" fill="#fe2b44"/><rect x="905" y="437" width="1" height="28" fill="#1b7f50"/><rect x="904" y="440" width="3" height="22" fill="#14834f"/><rect x="905" y="441" width="1" height="20" fill="#24b070"/><rect x="909" y="405" width="1" height="39" fill="#1b7f50"/><rect x="908" y="412" width="3" height="28" fill="#14834f"/><rect x="909" y="413" width="1" height="26" fill="#24b070"/><rect x="914" y="393" width="1" height="24" fill="#1b7f50"/><rect x="913" y="402" width="3" height="11" fill="#14834f"/><rect x="914" y="403" width="1" height="9" fill="#24b070"/><rect x="919" y="399" width="1" height="66" fill="#bb2033"/><rect x="918" y="404" width="3" height="61" fill="#c91b2f"/><rect x="919" y="405" width="1" height="59" fill="#fe2b44"/><rect x="924" y="448" width="1" height="67" fill="#bb2033"/><rect x="923" y="464" width="3" height="9" fill="#c91b2f"/><rect x="924" y="465" width="1" height="7" fill="#fe2b44"/><rect x="928" y="450" width="1" height="37" fill="#1b7f50"/><rect x="927" y="459" width="3" height="14" fill="#14834f"/><rect x="928" y="460" width="1" height="12" fill="#24b070"/><rect x="933" y="445" width="1" height="18" fill="#1b7f50"/><rect x="932" y="454" width="3" height="6" fill="#14834f"/><rect x="933" y="455" width="1" height="4" fill="#24b070"/><rect x="938" y="438" width="1" height="32" fill="#1b7f50"/><rect x="937" y="453" width="3" height="2" fill="#14834f"/><rect x="943" y="443" width="1" height="22" fill="#bb2033"/><rect x="942" y="454" width="3" height="10" fill="#c91b2f"/><rect x="943" y="455" width="1" height="8" fill="#fe2b44"/><rect x="948" y="461" width="1" height="23" fill="#bb2033"/><rect x="947" y="463" width="3" height="2" fill="#c91b2f"/><rect x="952" y="455" width="1" height="13" fill="#1b7f50"/><rect x="951" y="457" width="3" height="9" fill="#14834f"/><rect x="952" y="458" width="1" height="7" fill="#24b070"/><rect x="957" y="452" width="1" height="39" fill="#bb2033"/><rect x="956" y="457" width="3" height="14" fill="#c91b2f"/><rect x="957" y="458" width="1" height="12" fill="#fe2b44"/><rect x="962" y="471" width="1" height="45" fill="#bb2033"/><rect x="961" y="473" width="3" height="2" fill="#c91b2f"/><rect x="967" y="455" width="1" height="20" fill="#1b7f50"/><rect x="966" y="463" width="3" height="11" fill="#14834f"/><rect x="967" y="464" width="1" height="9" fill="#24b070"/><rect x="971" y="436" width="1" height="28" fill="#1b7f50"/><rect x="970" y="439" width="3" height="25" fill="#14834f"/><rect x="971" y="440" width="1" height="23" fill="#24b070"/><rect x="976" y="430" width="1" height="22" fill="#bb2033"/><rect x="975" y="439" width="3" height="2" fill="#c91b2f"/><rect x="981" y="439" width="1" height="16" fill="#bb2033"/><rect x="980" y="439" width="3" height="8" fill="#c91b2f"/><rect x="981" y="440" width="1" height="6" fill="#fe2b44"/><rect x="986" y="434" width="1" height="13" fill="#1b7f50"/><rect x="985" y="443" width="3" height="4" fill="#14834f"/><rect x="986" y="444" width="1" height="2" fill="#24b070"/><rect x="991" y="401" width="1" height="45" fill="#1b7f50"/><rect x="990" y="406" width="3" height="38" fill="#14834f"/><rect x="991" y="407" width="1" height="36" fill="#24b070"/><rect x="995" y="402" width="1" height="10" fill="#bb2033"/><rect x="994" y="404" width="3" height="5" fill="#c91b2f"/><rect x="995" y="405" width="1" height="3" fill="#fe2b44"/><rect x="1000" y="393" width="1" height="19" fill="#bb2033"/><rect x="999" y="407" width="3" height="1" fill="#c91b2f"/><rect x="1005" y="315" width="1" height="24" fill="#bb2033"/><rect x="1004" y="330" width="3" height="9" fill="#c91b2f"/><rect x="1005" y="331" width="1" height="7" fill="#fe2b44"/><rect x="1010" y="326" width="1" height="13" fill="#1b7f50"/><rect x="1009" y="326" width="3" height="13" fill="#14834f"/><rect x="1010" y="327" width="1" height="11" fill="#24b070"/><rect x="1015" y="314" width="1" height="14" fill="#1b7f50"/><rect x="1014" y="314" width="3" height="14" fill="#14834f"/><rect x="1015" y="315" width="1" height="12" fill="#24b070"/><rect x="1019" y="314" width="1" height="28" fill="#bb2033"/><rect x="1018" y="314" width="3" height="25" fill="#c91b2f"/><rect x="1019" y="315" width="1" height="23" fill="#fe2b44"/><rect x="1024" y="337" width="1" height="35" fill="#bb2033"/><rect x="1023" y="337" width="3" height="26" fill="#c91b2f"/><rect x="1024" y="338" width="1" height="24" fill="#fe2b44"/><rect x="1029" y="342" width="1" height="21" fill="#1b7f50"/><rect x="1028" y="353" width="3" height="10" fill="#14834f"/><rect x="1029" y="354" width="1" height="8" fill="#24b070"/><rect x="1034" y="347" width="1" height="17" fill="#bb2033"/><rect x="1033" y="353" width="3" height="7" fill="#c91b2f"/><rect x="1034" y="354" width="1" height="5" fill="#fe2b44"/><rect x="1038" y="341" width="1" height="24" fill="#1b7f50"/><rect x="1037" y="350" width="3" height="10" fill="#14834f"/><rect x="1038" y="351" width="1" height="8" fill="#24b070"/><rect x="1043" y="350" width="1" height="18" fill="#bb2033"/><rect x="1042" y="350" width="3" height="18" fill="#c91b2f"/><rect x="1043" y="351" width="1" height="16" fill="#fe2b44"/><rect x="1048" y="366" width="1" height="15" fill="#bb2033"/><rect x="1047" y="366" width="3" height="12" fill="#c91b2f"/><rect x="1048" y="367" width="1" height="10" fill="#fe2b44"/><rect x="1053" y="369" width="1" height="14" fill="#1b7f50"/><rect x="1052" y="375" width="3" height="3" fill="#14834f"/><rect x="1053" y="376" width="1" height="1" fill="#24b070"/><rect x="1058" y="371" width="1" height="16" fill="#bb2033"/><rect x="1057" y="375" width="3" height="12" fill="#c91b2f"/><rect x="1058" y="376" width="1" height="10" fill="#fe2b44"/><rect x="1062" y="381" width="1" height="17" fill="#1b7f50"/><rect x="1061" y="383" width="3" height="4" fill="#14834f"/><rect x="1062" y="384" width="1" height="2" fill="#24b070"/><rect x="1067" y="381" width="1" height="8" fill="#bb2033"/><rect x="1066" y="383" width="3" height="2" fill="#c91b2f"/><rect x="1072" y="379" width="1" height="7" fill="#1b7f50"/><rect x="1071" y="382" width="3" height="4" fill="#14834f"/><rect x="1072" y="383" width="1" height="2" fill="#24b070"/><rect x="1077" y="377" width="1" height="8" fill="#1b7f50"/><rect x="1076" y="378" width="3" height="7" fill="#14834f"/><rect x="1077" y="379" width="1" height="5" fill="#24b070"/><rect x="1081" y="375" width="1" height="6" fill="#1b7f50"/><rect x="1080" y="377" width="3" height="1" fill="#14834f"/><rect x="1086" y="375" width="1" height="4" fill="#bb2033"/><rect x="1085" y="377" width="3" height="1" fill="#c91b2f"/><rect x="1091" y="376" width="1" height="4" fill="#bb2033"/><rect x="1090" y="377" width="3" height="3" fill="#c91b2f"/><rect x="1091" y="378" width="1" height="1" fill="#fe2b44"/><rect x="1096" y="358" width="1" height="22" fill="#1b7f50"/><rect x="1095" y="361" width="3" height="19" fill="#14834f"/><rect x="1096" y="362" width="1" height="17" fill="#24b070"/><rect x="1101" y="340" width="1" height="23" fill="#1b7f50"/><rect x="1100" y="341" width="3" height="21" fill="#14834f"/><rect x="1101" y="342" width="1" height="19" fill="#24b070"/><rect x="1105" y="338" width="1" height="8" fill="#bb2033"/><rect x="1104" y="340" width="3" height="3" fill="#c91b2f"/><rect x="1105" y="341" width="1" height="1" fill="#fe2b44"/><rect x="1110" y="332" width="1" height="19" fill="#1b7f50"/><rect x="1109" y="341" width="3" height="2" fill="#14834f"/><rect x="1115" y="336" width="1" height="11" fill="#1b7f50"/><rect x="1114" y="341" width="3" height="1" fill="#14834f"/><rect x="1120" y="321" width="1" height="24" fill="#1b7f50"/><rect x="1119" y="332" width="3" height="9" fill="#14834f"/><rect x="1120" y="333" width="1" height="7" fill="#24b070"/><rect x="1124" y="329" width="1" height="8" fill="#bb2033"/><rect x="1123" y="332" width="3" height="3" fill="#c91b2f"/><rect x="1124" y="333" width="1" height="1" fill="#fe2b44"/><rect x="1129" y="325" width="1" height="10" fill="#1b7f50"/><rect x="1128" y="330" width="3" height="5" fill="#14834f"/><rect x="1129" y="331" width="1" height="3" fill="#24b070"/><rect x="1134" y="328" width="1" height="15" fill="#bb2033"/><rect x="1133" y="329" width="3" height="14" fill="#c91b2f"/><rect x="1134" y="330" width="1" height="12" fill="#fe2b44"/><rect x="1139" y="319" width="1" height="25" fill="#1b7f50"/><rect x="1138" y="329" width="3" height="14" fill="#14834f"/><rect x="1139" y="330" width="1" height="12" fill="#24b070"/><rect x="1144" y="308" width="1" height="22" fill="#1b7f50"/><rect x="1143" y="311" width="3" height="19" fill="#14834f"/><rect x="1144" y="312" width="1" height="17" fill="#24b070"/><rect x="1148" y="311" width="1" height="13" fill="#bb2033"/><rect x="1147" y="311" width="3" height="9" fill="#c91b2f"/><rect x="1148" y="312" width="1" height="7" fill="#fe2b44"/><rect x="1153" y="297" width="1" height="25" fill="#1b7f50"/><rect x="1152" y="300" width="3" height="20" fill="#14834f"/><rect x="1153" y="301" width="1" height="18" fill="#24b070"/><rect x="1158" y="285" width="1" height="18" fill="#1b7f50"/><rect x="1157" y="299" width="3" height="1" fill="#14834f"/><rect x="1163" y="289" width="1" height="19" fill="#1b7f50"/><rect x="1162" y="291" width="3" height="9" fill="#14834f"/><rect x="1163" y="292" width="1" height="7" fill="#24b070"/><rect x="1168" y="291" width="1" height="24" fill="#bb2033"/><rect x="1167" y="293" width="3" height="22" fill="#c91b2f"/><rect x="1168" y="294" width="1" height="20" fill="#fe2b44"/><rect x="1172" y="310" width="1" height="10" fill="#bb2033"/><rect x="1171" y="314" width="3" height="4" fill="#c91b2f"/><rect x="1172" y="315" width="1" height="2" fill="#fe2b44"/><rect x="1177" y="315" width="1" height="13" fill="#bb2033"/><rect x="1176" y="317" width="3" height="1" fill="#c91b2f"/><rect x="1182" y="303" width="1" height="20" fill="#1b7f50"/><rect x="1181" y="305" width="3" height="14" fill="#14834f"/><rect x="1182" y="306" width="1" height="12" fill="#24b070"/><rect x="1187" y="303" width="1" height="13" fill="#bb2033"/><rect x="1186" y="305" width="3" height="11" fill="#c91b2f"/><rect x="1187" y="306" width="1" height="9" fill="#fe2b44"/><rect x="1191" y="311" width="1" height="9" fill="#bb2033"/><rect x="1190" y="315" width="3" height="3" fill="#c91b2f"/><rect x="1191" y="316" width="1" height="1" fill="#fe2b44"/><rect x="1196" y="316" width="1" height="8" fill="#bb2033"/><rect x="1195" y="317" width="3" height="5" fill="#c91b2f"/><rect x="1196" y="318" width="1" height="3" fill="#fe2b44"/><rect x="1201" y="320" width="1" height="12" fill="#bb2033"/><rect x="1200" y="321" width="3" height="5" fill="#c91b2f"/><rect x="1201" y="322" width="1" height="3" fill="#fe2b44"/><rect x="1206" y="325" width="1" height="45" fill="#bb2033"/><rect x="1205" y="326" width="3" height="42" fill="#c91b2f"/><rect x="1206" y="327" width="1" height="40" fill="#fe2b44"/><rect x="1211" y="366" width="1" height="18" fill="#bb2033"/><rect x="1210" y="367" width="3" height="1" fill="#c91b2f"/><rect x="1215" y="368" width="1" height="15" fill="#bb2033"/><rect x="1214" y="369" width="3" height="10" fill="#c91b2f"/><rect x="1215" y="370" width="1" height="8" fill="#fe2b44"/><rect x="1220" y="376" width="1" height="35" fill="#bb2033"/><rect x="1219" y="378" width="3" height="30" fill="#c91b2f"/><rect x="1220" y="379" width="1" height="28" fill="#fe2b44"/><rect x="1225" y="379" width="1" height="38" fill="#1b7f50"/><rect x="1224" y="388" width="3" height="20" fill="#14834f"/><rect x="1225" y="389" width="1" height="18" fill="#24b070"/><rect x="1230" y="381" width="1" height="8" fill="#1b7f50"/><rect x="1229" y="384" width="3" height="5" fill="#14834f"/><rect x="1230" y="385" width="1" height="3" fill="#24b070"/><rect x="1234" y="385" width="1" height="8" fill="#bb2033"/><rect x="1233" y="387" width="3" height="5" fill="#c91b2f"/><rect x="1234" y="388" width="1" height="3" fill="#fe2b44"/><rect x="1239" y="364" width="1" height="33" fill="#1b7f50"/><rect x="1238" y="373" width="3" height="20" fill="#14834f"/><rect x="1239" y="374" width="1" height="18" fill="#24b070"/><rect x="1244" y="331" width="1" height="44" fill="#1b7f50"/><rect x="1243" y="334" width="3" height="40" fill="#14834f"/><rect x="1244" y="335" width="1" height="38" fill="#24b070"/><rect x="1249" y="330" width="1" height="19" fill="#bb2033"/><rect x="1248" y="334" width="3" height="6" fill="#c91b2f"/><rect x="1249" y="335" width="1" height="4" fill="#fe2b44"/><rect x="1254" y="337" width="1" height="26" fill="#bb2033"/><rect x="1253" y="339" width="3" height="12" fill="#c91b2f"/><rect x="1254" y="340" width="1" height="10" fill="#fe2b44"/><rect x="1258" y="343" width="1" height="19" fill="#1b7f50"/><rect x="1257" y="347" width="3" height="3" fill="#14834f"/><rect x="1258" y="348" width="1" height="1" fill="#24b070"/><rect x="1263" y="320" width="1" height="33" fill="#1b7f50"/><rect x="1262" y="325" width="3" height="23" fill="#14834f"/><rect x="1263" y="326" width="1" height="21" fill="#24b070"/><rect x="1268" y="320" width="1" height="21" fill="#bb2033"/><rect x="1267" y="325" width="3" height="16" fill="#c91b2f"/><rect x="1268" y="326" width="1" height="14" fill="#fe2b44"/><rect x="1273" y="312" width="1" height="39" fill="#1b7f50"/><rect x="1272" y="318" width="3" height="22" fill="#14834f"/><rect x="1273" y="319" width="1" height="20" fill="#24b070"/><rect x="1277" y="308" width="1" height="26" fill="#bb2033"/><rect x="1276" y="318" width="3" height="2" fill="#c91b2f"/><rect x="1282" y="311" width="1" height="36" fill="#bb2033"/><rect x="1281" y="320" width="3" height="6" fill="#c91b2f"/><rect x="1282" y="321" width="1" height="4" fill="#fe2b44"/><rect x="1287" y="304" width="1" height="23" fill="#1b7f50"/><rect x="1286" y="307" width="3" height="19" fill="#14834f"/><rect x="1287" y="308" width="1" height="17" fill="#24b070"/><rect x="1292" y="286" width="1" height="23" fill="#1b7f50"/><rect x="1291" y="294" width="3" height="14" fill="#14834f"/><rect x="1292" y="295" width="1" height="12" fill="#24b070"/><rect x="1297" y="272" width="1" height="28" fill="#bb2033"/><rect x="1296" y="294" width="3" height="6" fill="#c91b2f"/><rect x="1297" y="295" width="1" height="4" fill="#fe2b44"/><rect x="1301" y="286" width="1" height="20" fill="#bb2033"/><rect x="1300" y="298" width="3" height="2" fill="#c91b2f"/><rect x="1306" y="292" width="1" height="36" fill="#bb2033"/><rect x="1305" y="300" width="3" height="28" fill="#c91b2f"/><rect x="1306" y="301" width="1" height="26" fill="#fe2b44"/><rect x="1311" y="314" width="1" height="17" fill="#1b7f50"/><rect x="1310" y="318" width="3" height="10" fill="#14834f"/><rect x="1311" y="319" width="1" height="8" fill="#24b070"/><rect x="1316" y="315" width="1" height="10" fill="#bb2033"/><rect x="1315" y="318" width="3" height="2" fill="#c91b2f"/><rect x="1321" y="313" width="1" height="13" fill="#1b7f50"/><rect x="1320" y="315" width="3" height="4" fill="#14834f"/><rect x="1321" y="316" width="1" height="2" fill="#24b070"/><rect x="1325" y="305" width="1" height="7" fill="#1b7f50"/><rect x="1324" y="307" width="3" height="1" fill="#14834f"/><rect x="1330" y="288" width="1" height="21" fill="#1b7f50"/><rect x="1329" y="292" width="3" height="17" fill="#14834f"/><rect x="1330" y="293" width="1" height="15" fill="#24b070"/><rect x="1335" y="263" width="1" height="41" fill="#bb2033"/><rect x="1334" y="292" width="3" height="2" fill="#c91b2f"/><rect x="1340" y="294" width="1" height="34" fill="#bb2033"/><rect x="1339" y="295" width="3" height="12" fill="#c91b2f"/><rect x="1340" y="296" width="1" height="10" fill="#fe2b44"/><rect x="1344" y="293" width="1" height="17" fill="#1b7f50"/><rect x="1343" y="298" width="3" height="10" fill="#14834f"/><rect x="1344" y="299" width="1" height="8" fill="#24b070"/><rect x="1349" y="267" width="1" height="32" fill="#1b7f50"/><rect x="1348" y="283" width="3" height="16" fill="#14834f"/><rect x="1349" y="284" width="1" height="14" fill="#24b070"/><rect x="1354" y="282" width="1" height="33" fill="#bb2033"/><rect x="1353" y="283" width="3" height="30" fill="#c91b2f"/><rect x="1354" y="284" width="1" height="28" fill="#fe2b44"/><rect x="1359" y="304" width="1" height="15" fill="#bb2033"/><rect x="1358" y="312" width="3" height="1" fill="#c91b2f"/><rect x="1364" y="309" width="1" height="9" fill="#1b7f50"/><rect x="1363" y="311" width="3" height="6" fill="#14834f"/><rect x="1364" y="312" width="1" height="4" fill="#24b070"/><rect x="1368" y="307" width="1" height="11" fill="#bb2033"/><rect x="1367" y="311" width="3" height="1" fill="#c91b2f"/><rect x="1373" y="311" width="1" height="16" fill="#bb2033"/><rect x="1372" y="312" width="3" height="12" fill="#c91b2f"/><rect x="1373" y="313" width="1" height="10" fill="#fe2b44"/><rect x="1378" y="316" width="1" height="11" fill="#1b7f50"/><rect x="1377" y="316" width="3" height="8" fill="#14834f"/><rect x="1378" y="317" width="1" height="6" fill="#24b070"/><rect x="1383" y="297" width="1" height="36" fill="#1b7f50"/><rect x="1382" y="314" width="3" height="2" fill="#14834f"/><rect x="1387" y="306" width="1" height="14" fill="#1b7f50"/><rect x="1386" y="309" width="3" height="5" fill="#14834f"/><rect x="1387" y="310" width="1" height="3" fill="#24b070"/><rect x="1392" y="296" width="1" height="14" fill="#1b7f50"/><rect x="1391" y="308" width="3" height="1" fill="#14834f"/><rect x="1397" y="299" width="1" height="12" fill="#1b7f50"/><rect x="1396" y="299" width="3" height="10" fill="#14834f"/><rect x="1397" y="300" width="1" height="8" fill="#24b070"/><rect x="1402" y="296" width="1" height="11" fill="#bb2033"/><rect x="1401" y="299" width="3" height="1" fill="#c91b2f"/><rect x="1407" y="299" width="1" height="12" fill="#bb2033"/><rect x="1406" y="299" width="3" height="8" fill="#c91b2f"/><rect x="1407" y="300" width="1" height="6" fill="#fe2b44"/><rect x="1411" y="275" width="1" height="32" fill="#1b7f50"/><rect x="1410" y="284" width="3" height="23" fill="#14834f"/><rect x="1411" y="285" width="1" height="21" fill="#24b070"/><rect x="1416" y="271" width="1" height="14" fill="#1b7f50"/><rect x="1415" y="276" width="3" height="9" fill="#14834f"/><rect x="1416" y="277" width="1" height="7" fill="#24b070"/><rect x="1421" y="276" width="1" height="6" fill="#1b7f50"/><rect x="1420" y="277" width="3" height="1" fill="#14834f"/><rect x="1426" y="268" width="1" height="12" fill="#1b7f50"/><rect x="1425" y="269" width="3" height="8" fill="#14834f"/><rect x="1426" y="270" width="1" height="6" fill="#24b070"/><rect x="1430" y="265" width="1" height="16" fill="#bb2033"/><rect x="1429" y="269" width="3" height="12" fill="#c91b2f"/><rect x="1430" y="270" width="1" height="10" fill="#fe2b44"/><rect x="1435" y="276" width="1" height="16" fill="#bb2033"/><rect x="1434" y="281" width="3" height="8" fill="#c91b2f"/><rect x="1435" y="282" width="1" height="6" fill="#fe2b44"/><rect x="1440" y="264" width="1" height="27" fill="#1b7f50"/><rect x="1439" y="266" width="3" height="25" fill="#14834f"/><rect x="1440" y="267" width="1" height="23" fill="#24b070"/><rect x="1445" y="264" width="1" height="5" fill="#1b7f50"/><rect x="1444" y="266" width="3" height="1" fill="#14834f"/><rect x="1450" y="256" width="1" height="11" fill="#1b7f50"/><rect x="1449" y="265" width="3" height="1" fill="#14834f"/><rect x="1454" y="261" width="1" height="10" fill="#bb2033"/><rect x="1453" y="265" width="3" height="5" fill="#c91b2f"/><rect x="1454" y="266" width="1" height="3" fill="#fe2b44"/><rect x="1459" y="265" width="1" height="6" fill="#1b7f50"/><rect x="1458" y="267" width="3" height="3" fill="#14834f"/><rect x="1459" y="268" width="1" height="1" fill="#24b070"/><rect x="1464" y="265" width="1" height="11" fill="#bb2033"/><rect x="1463" y="267" width="3" height="9" fill="#c91b2f"/><rect x="1464" y="268" width="1" height="7" fill="#fe2b44"/><rect x="1469" y="267" width="1" height="11" fill="#1b7f50"/><rect x="1468" y="269" width="3" height="6" fill="#14834f"/><rect x="1469" y="270" width="1" height="4" fill="#24b070"/><rect x="1474" y="268" width="1" height="5" fill="#1b7f50"/><rect x="1473" y="269" width="3" height="3" fill="#14834f"/><rect x="1474" y="270" width="1" height="1" fill="#24b070"/><rect x="1478" y="256" width="1" height="14" fill="#1b7f50"/><rect x="1477" y="256" width="3" height="13" fill="#14834f"/><rect x="1478" y="257" width="1" height="11" fill="#24b070"/><rect x="1483" y="247" width="1" height="10" fill="#1b7f50"/><rect x="1482" y="256" width="3" height="1" fill="#14834f"/><rect x="1488" y="254" width="1" height="8" fill="#bb2033"/><rect x="1487" y="254" width="3" height="8" fill="#c91b2f"/><rect x="1488" y="255" width="1" height="6" fill="#fe2b44"/><rect x="1493" y="260" width="1" height="5" fill="#1b7f50"/><rect x="1492" y="260" width="3" height="3" fill="#14834f"/><rect x="1493" y="261" width="1" height="1" fill="#24b070"/><rect x="1497" y="256" width="1" height="9" fill="#1b7f50"/><rect x="1496" y="257" width="3" height="5" fill="#14834f"/><rect x="1497" y="258" width="1" height="3" fill="#24b070"/><rect x="1502" y="253" width="1" height="7" fill="#bb2033"/><rect x="1501" y="259" width="3" height="1" fill="#c91b2f"/><rect x="1507" y="255" width="1" height="5" fill="#1b7f50"/><rect x="1506" y="256" width="3" height="4" fill="#14834f"/><rect x="1507" y="257" width="1" height="2" fill="#24b070"/><rect x="1512" y="181" width="1" height="80" fill="#1b7f50"/><rect x="1511" y="201" width="3" height="56" fill="#14834f"/><rect x="1512" y="202" width="1" height="54" fill="#24b070"/><rect x="1517" y="193" width="1" height="27" fill="#bb2033"/><rect x="1516" y="201" width="3" height="16" fill="#c91b2f"/><rect x="1517" y="202" width="1" height="14" fill="#fe2b44"/><rect x="1521" y="214" width="1" height="28" fill="#bb2033"/><rect x="1520" y="216" width="3" height="20" fill="#c91b2f"/><rect x="1521" y="217" width="1" height="18" fill="#fe2b44"/><rect x="1526" y="228" width="1" height="13" fill="#1b7f50"/><rect x="1525" y="236" width="3" height="3" fill="#14834f"/><rect x="1526" y="237" width="1" height="1" fill="#24b070"/><rect x="1531" y="206" width="1" height="34" fill="#1b7f50"/><rect x="1530" y="214" width="3" height="23" fill="#14834f"/><rect x="1531" y="215" width="1" height="21" fill="#24b070"/><rect x="1536" y="204" width="1" height="11" fill="#1b7f50"/><rect x="1535" y="208" width="3" height="7" fill="#14834f"/><rect x="1536" y="209" width="1" height="5" fill="#24b070"/><rect x="1540" y="187" width="1" height="26" fill="#1b7f50"/><rect x="1539" y="193" width="3" height="16" fill="#14834f"/><rect x="1540" y="194" width="1" height="14" fill="#24b070"/><rect x="1545" y="159" width="1" height="36" fill="#1b7f50"/><rect x="1544" y="167" width="3" height="28" fill="#14834f"/><rect x="1545" y="168" width="1" height="26" fill="#24b070"/><rect x="1550" y="149" width="1" height="25" fill="#1b7f50"/><rect x="1549" y="162" width="3" height="6" fill="#14834f"/><rect x="1550" y="163" width="1" height="4" fill="#24b070"/><rect x="1555" y="158" width="1" height="17" fill="#bb2033"/><rect x="1554" y="162" width="3" height="6" fill="#c91b2f"/><rect x="1555" y="163" width="1" height="4" fill="#fe2b44"/><rect x="1560" y="159" width="1" height="18" fill="#1b7f50"/><rect x="1559" y="166" width="3" height="1" fill="#14834f"/><rect x="1564" y="163" width="1" height="49" fill="#bb2033"/><rect x="1563" y="166" width="3" height="46" fill="#c91b2f"/><rect x="1564" y="167" width="1" height="44" fill="#fe2b44"/><rect x="1569" y="180" width="1" height="39" fill="#1b7f50"/><rect x="1568" y="186" width="3" height="33" fill="#14834f"/><rect x="1569" y="187" width="1" height="31" fill="#24b070"/><rect x="1574" y="175" width="1" height="17" fill="#bb2033"/><rect x="1573" y="185" width="3" height="3" fill="#c91b2f"/><rect x="1574" y="186" width="1" height="1" fill="#fe2b44"/><rect x="1579" y="161" width="1" height="27" fill="#1b7f50"/><rect x="1578" y="174" width="3" height="14" fill="#14834f"/><rect x="1579" y="175" width="1" height="12" fill="#24b070"/><rect x="1583" y="165" width="1" height="15" fill="#bb2033"/><rect x="1582" y="174" width="3" height="3" fill="#c91b2f"/><rect x="1583" y="175" width="1" height="1" fill="#fe2b44"/><rect x="1588" y="159" width="1" height="15" fill="#1b7f50"/><rect x="1587" y="165" width="3" height="9" fill="#14834f"/><rect x="1588" y="166" width="1" height="7" fill="#24b070"/><rect x="1593" y="159" width="1" height="14" fill="#1b7f50"/><rect x="1592" y="164" width="3" height="1" fill="#14834f"/><rect x="1598" y="162" width="1" height="25" fill="#1b7f50"/><rect x="1597" y="164" width="3" height="1" fill="#14834f"/><rect x="1603" y="154" width="1" height="16" fill="#bb2033"/><rect x="1602" y="164" width="3" height="6" fill="#c91b2f"/><rect x="1603" y="165" width="1" height="4" fill="#fe2b44"/><rect x="1607" y="167" width="1" height="14" fill="#bb2033"/><rect x="1606" y="168" width="3" height="4" fill="#c91b2f"/><rect x="1607" y="169" width="1" height="2" fill="#fe2b44"/><rect x="1612" y="166" width="1" height="11" fill="#bb2033"/><rect x="1611" y="172" width="3" height="4" fill="#c91b2f"/><rect x="1612" y="173" width="1" height="2" fill="#fe2b44"/><rect x="1617" y="161" width="1" height="18" fill="#1b7f50"/><rect x="1616" y="163" width="3" height="13" fill="#14834f"/><rect x="1617" y="164" width="1" height="11" fill="#24b070"/><rect x="1622" y="142" width="1" height="24" fill="#1b7f50"/><rect x="1621" y="149" width="3" height="14" fill="#14834f"/><rect x="1622" y="150" width="1" height="12" fill="#24b070"/><rect x="1626" y="134" width="1" height="17" fill="#bb2033"/><rect x="1625" y="149" width="3" height="2" fill="#c91b2f"/><rect x="1631" y="101" width="1" height="50" fill="#1b7f50"/><rect x="1630" y="116" width="3" height="35" fill="#14834f"/><rect x="1631" y="117" width="1" height="33" fill="#24b070"/><rect x="1636" y="113" width="1" height="30" fill="#bb2033"/><rect x="1635" y="115" width="3" height="23" fill="#c91b2f"/><rect x="1636" y="116" width="1" height="21" fill="#fe2b44"/><rect x="1641" y="123" width="1" height="119" fill="#bb2033"/><rect x="1640" y="139" width="3" height="6" fill="#c91b2f"/><rect x="1641" y="140" width="1" height="4" fill="#fe2b44"/><rect x="1646" y="138" width="1" height="47" fill="#bb2033"/><rect x="1645" y="145" width="3" height="20" fill="#c91b2f"/><rect x="1646" y="146" width="1" height="18" fill="#fe2b44"/><rect x="1650" y="164" width="1" height="28" fill="#bb2033"/><rect x="1649" y="166" width="3" height="26" fill="#c91b2f"/><rect x="1650" y="167" width="1" height="24" fill="#fe2b44"/><rect x="1655" y="159" width="1" height="33" fill="#1b7f50"/><rect x="1654" y="169" width="3" height="23" fill="#14834f"/><rect x="1655" y="170" width="1" height="21" fill="#24b070"/></g>
<rect x="1607" y="62" width="77" height="222" fill="#9c27b0" fill-opacity="0.2" stroke="#9414ab" stroke-width="2"/>
<polyline clip-path="url(#cr)" points="10.5,770.1 15.3,875.7 20.1,859.9 24.9,863.6 29.6,825.2 34.4,829.8 39.2,815.0 44.0,844.0 48.8,877.5 53.5,825.8 58.3,803.1 63.1,780.2 67.9,828.1 72.7,834.4 77.5,787.4 82.2,781.2 87.0,818.0 91.8,818.9 96.6,767.8 101.4,745.5 106.1,781.4 110.9,768.6 115.7,747.3 120.5,739.8 125.3,748.0 130.0,747.0 134.8,722.8 139.6,729.5 144.4,788.8 149.2,785.1 153.9,806.7 158.7,826.7 163.5,804.9 168.3,810.0 173.1,802.9 177.9,796.9 182.6,826.1 187.4,891.9 192.2,885.6 197.0,889.8 201.8,891.8 206.5,908.3 211.3,864.5 216.1,852.1 220.9,691.6 225.7,869.2 230.4,867.5 235.2,900.6 240.0,873.2 244.8,871.8 249.6,900.5 254.3,879.9 259.1,856.0 263.9,826.9 268.7,851.3 273.5,796.1 278.3,789.8 283.0,816.2 287.8,830.7 292.6,841.8 297.4,853.7 302.2,849.5 306.9,881.0 311.7,894.3 316.5,864.8 321.3,873.4 326.1,875.9 330.8,899.8 335.6,904.9 340.4,879.3 345.2,857.4 350.0,850.0 354.8,861.4 359.5,843.9 364.3,885.3 369.1,901.2 373.9,849.3 378.7,843.4 383.4,787.0 388.2,796.8 393.0,766.3 397.8,845.9 402.6,850.3 407.3,826.5 412.1,829.9 416.9,894.9 421.7,874.4 426.5,933.1 431.2,927.9 436.0,925.3 440.8,956.2 445.6,971.8 450.4,1022.2 455.2,992.0 459.9,984.8 464.7,938.0 469.5,901.6 474.3,888.6 479.1,849.6 483.8,873.8 488.6,870.6 493.4,886.9 498.2,891.4 503.0,923.2 507.7,874.0 512.5,864.3 517.3,838.5 522.1,828.6 526.9,843.7 531.6,872.2 536.4,876.8 541.2,850.1 546.0,757.4 550.8,723.7 555.6,687.7 560.3,841.4 565.1,851.1 569.9,841.5 574.7,827.9 579.5,807.5 584.2,823.0 589.0,820.4 593.8,802.3 598.6,815.7 603.4,794.8 608.1,825.4 612.9,803.6 617.7,802.5 622.5,820.1 627.3,829.8 632.0,819.6 636.8,807.3 641.6,860.9 646.4,830.1 651.2,816.6 656.0,854.2 660.7,864.9 665.5,878.9 670.3,901.7 675.1,899.1 679.9,898.5 684.6,926.5 689.4,907.7 694.2,895.9 699.0,909.2 703.8,916.4 708.5,928.2 713.3,966.1 718.1,957.1 722.9,956.3 727.7,998.1 732.4,952.4 737.2,984.8 742.0,927.9 746.8,914.4 751.6,862.3 756.4,864.0 761.1,861.0 765.9,818.6 770.7,811.5 775.5,750.4 780.3,780.7 785.0,774.9 789.8,840.5 794.6,818.6 799.4,801.7 804.2,806.9 808.9,794.9 813.7,806.3 818.5,844.3 823.3,885.0 828.1,907.5 832.9,1013.1 837.6,1082.5 842.4,1007.1 847.2,1009.8 852.0,1002.3 856.8,982.1 861.5,925.2 866.3,910.0 871.1,956.1 875.9,952.2 880.7,905.5 885.4,921.7 890.2,918.3 895.0,929.8 899.8,961.3 904.6,922.9 909.3,881.1 914.1,867.3 918.9,952.3 923.7,961.2 928.5,940.4 933.3,933.0 938.0,931.4 942.8,946.0 947.6,948.8 952.4,932.8 957.2,954.1 961.9,960.7 966.7,936.0 971.5,889.9 976.3,892.9 981.1,905.2 985.8,897.3 990.6,832.3 995.4,837.3 1000.2,835.8 1005.0,748.5 1009.7,737.3 1014.5,726.7 1019.3,783.3 1024.1,831.8 1028.9,819.8 1033.7,834.0 1038.4,820.4 1043.2,855.6 1048.0,875.0 1052.8,870.6 1057.6,893.4 1062.3,886.8 1067.1,890.3 1071.9,885.3 1076.7,875.4 1081.5,873.7 1086.2,873.4 1091.0,883.3 1095.8,836.7 1100.6,797.1 1105.4,804.8 1110.1,801.3 1114.9,800.0 1119.7,782.0 1124.5,792.2 1129.3,782.6 1134.1,833.1 1138.8,800.9 1143.6,765.8 1148.4,798.6 1153.2,762.8 1158.0,761.1 1162.7,747.9 1167.5,832.2 1172.3,841.8 1177.1,843.0 1181.9,812.8 1186.6,849.0 1191.4,856.3 1196.2,869.9 1201.0,882.4 1205.8,989.5 1210.5,990.0 1215.3,1010.1 1220.1,1056.0 1224.9,996.0 1229.7,984.2 1234.5,998.6 1239.2,946.8 1244.0,864.0 1248.8,876.1 1253.6,900.2 1258.4,892.6 1263.1,850.2 1267.9,884.7 1272.7,845.1 1277.5,850.1 1282.3,862.7 1287.0,829.4 1291.8,809.1 1296.6,823.3 1301.4,825.3 1306.2,894.7 1311.0,874.0 1315.7,877.5 1320.5,867.5 1325.3,849.6 1330.1,821.9 1334.9,827.6 1339.6,865.7 1344.4,845.8 1349.2,815.9 1354.0,893.2 1358.8,894.4 1363.5,888.7 1368.3,892.0 1373.1,923.5 1377.9,901.7 1382.7,896.5 1387.4,882.3 1392.2,879.0 1397.0,854.7 1401.8,858.9 1406.6,881.1 1411.4,820.9 1416.1,803.5 1420.9,804.6 1425.7,787.4 1430.5,837.0 1435.3,864.9 1440.0,808.9 1444.8,808.9 1449.6,807.1 1454.4,826.1 1459.2,818.4 1463.9,853.9 1468.7,834.6 1473.5,833.8 1478.3,799.5 1483.1,799.5 1487.8,825.2 1492.6,821.1 1497.4,809.6 1502.2,825.4 1507.0,812.9 1511.8,699.2 1516.5,763.8 1521.3,830.3 1526.1,829.5 1530.9,787.3 1535.7,776.9 1540.4,753.4 1545.2,720.0 1550.0,714.3 1554.8,735.0 1559.6,732.6 1564.3,868.6 1569.1,825.2 1573.9,828.7 1578.7,807.1 1583.5,814.8 1588.2,795.8 1593.0,793.5 1597.8,793.0 1602.6,812.7 1607.4,818.9 1612.2,833.5 1616.9,805.5 1621.7,779.0 1626.5,787.0 1631.3,731.4 1636.1,801.9 1640.8,822.2 1645.6,874.6 1650.4,931.4 1655.2,884.9" fill="none" stroke="#7e57c2" stroke-width="1.3" stroke-linejoin="round" stroke-linecap="round"/>
<path d="M13 721.5H2078" stroke="#868e94" stroke-width="1.3"/>
<path d="M2007.5 13V1115M13 1077.5H2078" stroke="#f0f1f4" stroke-width="1"/>
<g font-family="'Liberation Sans', Arial, sans-serif" font-size="15.6" fill="#263038"><text x="2018.5" y="43.0">107,00</text><text x="2018.5" y="93.8">106,00</text><text x="2018.5" y="144.7">105,00</text><text x="2018.5" y="195.5">104,00</text><text x="2018.5" y="246.4">103,00</text><text x="2018.5" y="297.2">102,00</text><text x="2018.5" y="348.1">101,00</text><text x="2018.5" y="398.9">100,00</text><text x="2018.5" y="449.8">99,00</text><text x="2018.5" y="500.6">98,00</text><text x="2018.5" y="551.5">97,00</text><text x="2018.5" y="602.3">96,00</text><text x="2018.5" y="653.2">95,00</text><text x="2018.5" y="704.0">94,00</text><text x="2018.5" y="763.1">70,00</text><text x="2018.5" y="835.4">60,00</text><text x="2018.5" y="907.6">50,00</text><text x="2018.5" y="979.9">40,00</text><text x="2018.5" y="1052.1">30,00</text></g>
<path d="M2008 195.0h64.6a2 2 0 0 1 2 2v18.9a2 2 0 0 1-2 2H2008z" fill="#2196f3"/>
<text x="2018.5" y="210.9" font-family="'Liberation Sans', Arial, sans-serif" font-size="15.6" fill="#ffffff">103,71</text>
<path d="M2008 242.3h64.6a2 2 0 0 1 2 2v18.9a2 2 0 0 1-2 2H2008z" fill="#673ab7"/>
<text x="2018.5" y="258.2" font-family="'Liberation Sans', Arial, sans-serif" font-size="15.6" fill="#ffffff">102,78</text>
<path d="M2008 313.5h64.6a2 2 0 0 1 2 2v18.9a2 2 0 0 1-2 2H2008z" fill="#ff9800"/>
<text x="2018.5" y="329.4" font-family="'Liberation Sans', Arial, sans-serif" font-size="15.6" fill="#131722">101,38</text>
<path d="M2008 873.4h55.5a2 2 0 0 1 2 2v18.8a2 2 0 0 1-2 2H2008z" fill="#7e57c2"/>
<text x="2018.5" y="890.2" font-family="'Liberation Sans', Arial, sans-serif" font-size="15.6" fill="#ffffff">52,53</text>
<g font-family="'Liberation Sans', Arial, sans-serif" font-size="15.6" fill="#263038" text-anchor="middle"><text x="125" y="1101">18:00</text><text x="221" y="1101" font-weight="bold">23</text><text x="297" y="1101">06:00</text><text x="412" y="1101">12:00</text><text x="527" y="1101">18:00</text><text x="622" y="1101" font-weight="bold">24</text><text x="699" y="1101">06:00</text><text x="814" y="1101">12:00</text><text x="929" y="1101">18:00</text><text x="1004.5" y="1101" font-weight="bold">27</text><text x="1081" y="1101">06:00</text><text x="1196" y="1101">12:00</text><text x="1311" y="1101">18:00</text><text x="1406" y="1101" font-weight="bold">28</text><text x="1483" y="1101">06:00</text><text x="1598" y="1101">12:00</text><text x="1713" y="1101">18:00</text><text x="1827" y="1101" font-weight="bold">29</text><text x="1942" y="1101">06:00</text></g>
<g font-family="'Liberation Sans', Arial, sans-serif" font-size="15.6">
<text y="37.6" fill="#263038"><tspan x="24.3" letter-spacing="-0.24">OIL · 15 · XTB</tspan><tspan x="129.6">O</tspan><tspan fill="#178450">103,98</tspan><tspan x="197.6">H</tspan><tspan fill="#178450">104,62</tspan><tspan x="266.2">L</tspan><tspan fill="#178450">103,98</tspan><tspan x="331">C</tspan><tspan fill="#178450">104,43</tspan><tspan x="397.9" fill="#178450">+0,45 (+0,43%)</tspan></text>
<text y="60.8" fill="#263038"><tspan x="24.2" letter-spacing="0.06">EMA (50, close, 0)</tspan><tspan x="162.3" fill="#2196f3">103,71</tspan></text>
<text y="83.8" fill="#263038"><tspan x="24.2" letter-spacing="0.06">EMA (100, close, 0)</tspan><tspan x="171" fill="#673ab7">102,78</tspan></text>
<text y="106.6" fill="#263038"><tspan x="24.2" letter-spacing="0.06">EMA (200, close, 0)</tspan><tspan x="171" fill="#ff9800">101,38</tspan></text>
<text y="746.4" fill="#263038"><tspan x="24.0" letter-spacing="-0.25">RSI (14)</tspan><tspan x="90" fill="#7e57c2">52,53</tspan></text>
</g>
</svg>
</div></body></html>
